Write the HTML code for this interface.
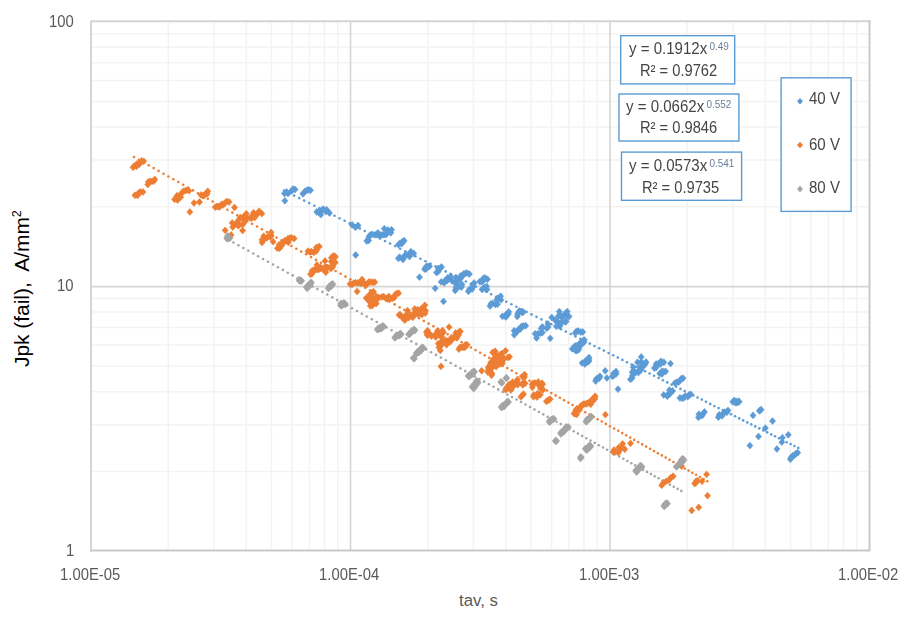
<!DOCTYPE html>
<html><head><meta charset="utf-8"><title>chart</title>
<style>
html,body{margin:0;padding:0;background:#fff;}
body{width:915px;height:620px;position:relative;overflow:hidden;font-family:"Liberation Sans",sans-serif;}
.t{position:absolute;white-space:nowrap;line-height:1;color:#595959;font-size:16.6px;transform-origin:0 0;transform:scaleX(0.895);}
.eq{position:absolute;white-space:nowrap;line-height:1;color:#454545;font-size:16px;transform-origin:0 0;transform:scaleX(0.94);}
.eq sup{font-size:10.6px;color:#6b7f99;vertical-align:baseline;position:relative;top:-4.3px;margin-left:2.4px;}
</style></head><body>
<svg width="915" height="620" viewBox="0 0 915 620" style="position:absolute;left:0;top:0">
<rect width="915" height="620" fill="#fff"/>
<g stroke="#f3f3f3" stroke-width="1.5" fill="none">
<line x1="168.22" y1="21.2" x2="168.22" y2="550.6"/>
<line x1="213.91" y1="21.2" x2="213.91" y2="550.6"/>
<line x1="246.33" y1="21.2" x2="246.33" y2="550.6"/>
<line x1="271.48" y1="21.2" x2="271.48" y2="550.6"/>
<line x1="292.03" y1="21.2" x2="292.03" y2="550.6"/>
<line x1="309.40" y1="21.2" x2="309.40" y2="550.6"/>
<line x1="324.45" y1="21.2" x2="324.45" y2="550.6"/>
<line x1="337.73" y1="21.2" x2="337.73" y2="550.6"/>
<line x1="427.72" y1="21.2" x2="427.72" y2="550.6"/>
<line x1="473.41" y1="21.2" x2="473.41" y2="550.6"/>
<line x1="505.83" y1="21.2" x2="505.83" y2="550.6"/>
<line x1="530.98" y1="21.2" x2="530.98" y2="550.6"/>
<line x1="551.53" y1="21.2" x2="551.53" y2="550.6"/>
<line x1="568.90" y1="21.2" x2="568.90" y2="550.6"/>
<line x1="583.95" y1="21.2" x2="583.95" y2="550.6"/>
<line x1="597.23" y1="21.2" x2="597.23" y2="550.6"/>
<line x1="687.22" y1="21.2" x2="687.22" y2="550.6"/>
<line x1="732.91" y1="21.2" x2="732.91" y2="550.6"/>
<line x1="765.33" y1="21.2" x2="765.33" y2="550.6"/>
<line x1="790.48" y1="21.2" x2="790.48" y2="550.6"/>
<line x1="811.03" y1="21.2" x2="811.03" y2="550.6"/>
<line x1="828.40" y1="21.2" x2="828.40" y2="550.6"/>
<line x1="843.45" y1="21.2" x2="843.45" y2="550.6"/>
<line x1="856.73" y1="21.2" x2="856.73" y2="550.6"/>
<line x1="91.0" y1="471.42" x2="869.5" y2="471.42"/>
<line x1="91.0" y1="424.81" x2="869.5" y2="424.81"/>
<line x1="91.0" y1="391.73" x2="869.5" y2="391.73"/>
<line x1="91.0" y1="366.08" x2="869.5" y2="366.08"/>
<line x1="91.0" y1="345.12" x2="869.5" y2="345.12"/>
<line x1="91.0" y1="327.40" x2="869.5" y2="327.40"/>
<line x1="91.0" y1="312.05" x2="869.5" y2="312.05"/>
<line x1="91.0" y1="298.51" x2="869.5" y2="298.51"/>
<line x1="91.0" y1="206.72" x2="869.5" y2="206.72"/>
<line x1="91.0" y1="160.11" x2="869.5" y2="160.11"/>
<line x1="91.0" y1="127.03" x2="869.5" y2="127.03"/>
<line x1="91.0" y1="101.38" x2="869.5" y2="101.38"/>
<line x1="91.0" y1="80.42" x2="869.5" y2="80.42"/>
<line x1="91.0" y1="62.70" x2="869.5" y2="62.70"/>
<line x1="91.0" y1="47.35" x2="869.5" y2="47.35"/>
<line x1="91.0" y1="33.81" x2="869.5" y2="33.81"/>
</g>
<g stroke="#d5d5d5" stroke-width="1.6" fill="none">
<line x1="350.50" y1="21.2" x2="350.50" y2="550.6"/>
<line x1="610.00" y1="21.2" x2="610.00" y2="550.6"/>
<line x1="91.0" y1="286.60" x2="869.5" y2="286.60"/>
</g>
<path d="M91.0 550.6V21.2H869.5" fill="none" stroke="#d4d4d4" stroke-width="1.9" stroke-linecap="square"/>
<path d="M91.0 550.6H869.5V21.2" fill="none" stroke="#c9c9c9" stroke-width="2" stroke-linecap="square"/>
<defs><filter id="bl" x="-5%" y="-5%" width="110%" height="110%"><feGaussianBlur stdDeviation="0.45"/></filter></defs><g filter="url(#bl)">
<g fill="#ed7d31"><circle cx="134.0" cy="157.0" r="1.3"/><circle cx="138.9" cy="159.8" r="1.3"/><circle cx="143.8" cy="162.6" r="1.3"/><circle cx="148.8" cy="165.3" r="1.3"/><circle cx="153.7" cy="168.1" r="1.3"/><circle cx="158.6" cy="170.9" r="1.3"/><circle cx="163.5" cy="173.7" r="1.3"/><circle cx="168.4" cy="176.5" r="1.3"/><circle cx="173.3" cy="179.2" r="1.3"/><circle cx="178.3" cy="182.0" r="1.3"/><circle cx="183.2" cy="184.8" r="1.3"/><circle cx="188.1" cy="187.6" r="1.3"/><circle cx="193.0" cy="190.4" r="1.3"/><circle cx="197.9" cy="193.2" r="1.3"/><circle cx="202.9" cy="195.9" r="1.3"/><circle cx="207.8" cy="198.7" r="1.3"/><circle cx="212.7" cy="201.5" r="1.3"/><circle cx="217.6" cy="204.3" r="1.3"/><circle cx="222.5" cy="207.1" r="1.3"/><circle cx="227.4" cy="209.8" r="1.3"/><circle cx="232.4" cy="212.6" r="1.3"/><circle cx="237.3" cy="215.4" r="1.3"/><circle cx="242.2" cy="218.2" r="1.3"/><circle cx="247.1" cy="221.0" r="1.3"/><circle cx="252.0" cy="223.7" r="1.3"/><circle cx="257.0" cy="226.5" r="1.3"/><circle cx="261.9" cy="229.3" r="1.3"/><circle cx="266.8" cy="232.1" r="1.3"/><circle cx="271.7" cy="234.9" r="1.3"/><circle cx="276.6" cy="237.6" r="1.3"/><circle cx="281.5" cy="240.4" r="1.3"/><circle cx="286.5" cy="243.2" r="1.3"/><circle cx="291.4" cy="246.0" r="1.3"/><circle cx="296.3" cy="248.8" r="1.3"/><circle cx="301.2" cy="251.6" r="1.3"/><circle cx="306.1" cy="254.3" r="1.3"/><circle cx="311.1" cy="257.1" r="1.3"/><circle cx="316.0" cy="259.9" r="1.3"/><circle cx="320.9" cy="262.7" r="1.3"/><circle cx="325.8" cy="265.5" r="1.3"/><circle cx="330.7" cy="268.2" r="1.3"/><circle cx="335.6" cy="271.0" r="1.3"/><circle cx="340.6" cy="273.8" r="1.3"/><circle cx="345.5" cy="276.6" r="1.3"/><circle cx="350.4" cy="279.4" r="1.3"/><circle cx="355.3" cy="282.1" r="1.3"/><circle cx="360.2" cy="284.9" r="1.3"/><circle cx="365.2" cy="287.7" r="1.3"/><circle cx="370.1" cy="290.5" r="1.3"/><circle cx="375.0" cy="293.3" r="1.3"/><circle cx="379.9" cy="296.0" r="1.3"/><circle cx="384.8" cy="298.8" r="1.3"/><circle cx="389.7" cy="301.6" r="1.3"/><circle cx="394.7" cy="304.4" r="1.3"/><circle cx="399.6" cy="307.2" r="1.3"/><circle cx="404.5" cy="309.9" r="1.3"/><circle cx="409.3" cy="312.7" r="1.3"/><circle cx="414.2" cy="315.4" r="1.3"/><circle cx="419.0" cy="318.2" r="1.3"/><circle cx="423.8" cy="320.9" r="1.3"/><circle cx="428.6" cy="323.6" r="1.3"/><circle cx="433.4" cy="326.3" r="1.3"/><circle cx="438.2" cy="329.0" r="1.3"/><circle cx="442.9" cy="331.7" r="1.3"/><circle cx="447.6" cy="334.3" r="1.3"/><circle cx="452.3" cy="337.0" r="1.3"/><circle cx="457.0" cy="339.6" r="1.3"/><circle cx="461.7" cy="342.3" r="1.3"/><circle cx="466.3" cy="344.9" r="1.3"/><circle cx="470.9" cy="347.5" r="1.3"/><circle cx="475.6" cy="350.1" r="1.3"/><circle cx="480.2" cy="352.7" r="1.3"/><circle cx="484.7" cy="355.3" r="1.3"/><circle cx="489.3" cy="357.9" r="1.3"/><circle cx="493.8" cy="360.5" r="1.3"/><circle cx="498.4" cy="363.0" r="1.3"/><circle cx="502.9" cy="365.6" r="1.3"/><circle cx="507.3" cy="368.1" r="1.3"/><circle cx="511.8" cy="370.6" r="1.3"/><circle cx="516.3" cy="373.2" r="1.3"/><circle cx="520.7" cy="375.7" r="1.3"/><circle cx="525.1" cy="378.2" r="1.3"/><circle cx="529.5" cy="380.7" r="1.3"/><circle cx="533.9" cy="383.1" r="1.3"/><circle cx="538.3" cy="385.6" r="1.3"/><circle cx="542.6" cy="388.1" r="1.3"/><circle cx="547.0" cy="390.5" r="1.3"/><circle cx="551.3" cy="393.0" r="1.3"/><circle cx="555.6" cy="395.4" r="1.3"/><circle cx="559.9" cy="397.8" r="1.3"/><circle cx="564.1" cy="400.2" r="1.3"/><circle cx="568.4" cy="402.6" r="1.3"/><circle cx="572.6" cy="405.0" r="1.3"/><circle cx="576.9" cy="407.4" r="1.3"/><circle cx="581.1" cy="409.8" r="1.3"/><circle cx="585.2" cy="412.2" r="1.3"/><circle cx="589.4" cy="414.5" r="1.3"/><circle cx="593.6" cy="416.9" r="1.3"/><circle cx="597.7" cy="419.2" r="1.3"/><circle cx="601.8" cy="421.5" r="1.3"/><circle cx="605.9" cy="423.9" r="1.3"/><circle cx="610.0" cy="426.2" r="1.3"/><circle cx="614.1" cy="428.5" r="1.3"/><circle cx="618.2" cy="430.8" r="1.3"/><circle cx="622.2" cy="433.1" r="1.3"/><circle cx="626.2" cy="435.3" r="1.3"/><circle cx="630.2" cy="437.6" r="1.3"/><circle cx="634.2" cy="439.9" r="1.3"/><circle cx="638.2" cy="442.1" r="1.3"/><circle cx="642.2" cy="444.4" r="1.3"/><circle cx="646.1" cy="446.6" r="1.3"/><circle cx="650.1" cy="448.8" r="1.3"/><circle cx="654.0" cy="451.0" r="1.3"/><circle cx="657.9" cy="453.2" r="1.3"/><circle cx="661.8" cy="455.4" r="1.3"/><circle cx="665.7" cy="457.6" r="1.3"/><circle cx="669.5" cy="459.8" r="1.3"/><circle cx="673.4" cy="462.0" r="1.3"/><circle cx="677.2" cy="464.1" r="1.3"/><circle cx="681.0" cy="466.3" r="1.3"/><circle cx="684.8" cy="468.5" r="1.3"/><circle cx="688.6" cy="470.6" r="1.3"/><circle cx="692.4" cy="472.7" r="1.3"/><circle cx="696.1" cy="474.8" r="1.3"/><circle cx="699.9" cy="477.0" r="1.3"/><circle cx="703.6" cy="479.1" r="1.3"/><circle cx="707.3" cy="481.2" r="1.3"/></g>
<g fill="#a5a5a5"><circle cx="228.5" cy="239.8" r="1.3"/><circle cx="233.4" cy="242.5" r="1.3"/><circle cx="238.4" cy="245.3" r="1.3"/><circle cx="243.3" cy="248.0" r="1.3"/><circle cx="248.3" cy="250.8" r="1.3"/><circle cx="253.2" cy="253.5" r="1.3"/><circle cx="258.1" cy="256.2" r="1.3"/><circle cx="263.1" cy="259.0" r="1.3"/><circle cx="268.0" cy="261.7" r="1.3"/><circle cx="273.0" cy="264.5" r="1.3"/><circle cx="277.9" cy="267.2" r="1.3"/><circle cx="282.9" cy="269.9" r="1.3"/><circle cx="287.8" cy="272.7" r="1.3"/><circle cx="292.7" cy="275.4" r="1.3"/><circle cx="297.7" cy="278.2" r="1.3"/><circle cx="302.6" cy="280.9" r="1.3"/><circle cx="307.6" cy="283.6" r="1.3"/><circle cx="312.5" cy="286.4" r="1.3"/><circle cx="317.4" cy="289.1" r="1.3"/><circle cx="322.4" cy="291.9" r="1.3"/><circle cx="327.3" cy="294.6" r="1.3"/><circle cx="332.3" cy="297.3" r="1.3"/><circle cx="337.2" cy="300.1" r="1.3"/><circle cx="342.1" cy="302.8" r="1.3"/><circle cx="347.1" cy="305.6" r="1.3"/><circle cx="352.0" cy="308.3" r="1.3"/><circle cx="357.0" cy="311.0" r="1.3"/><circle cx="361.9" cy="313.8" r="1.3"/><circle cx="366.8" cy="316.5" r="1.3"/><circle cx="371.8" cy="319.3" r="1.3"/><circle cx="376.7" cy="322.0" r="1.3"/><circle cx="381.7" cy="324.8" r="1.3"/><circle cx="386.6" cy="327.5" r="1.3"/><circle cx="391.6" cy="330.2" r="1.3"/><circle cx="396.5" cy="333.0" r="1.3"/><circle cx="401.4" cy="335.7" r="1.3"/><circle cx="406.4" cy="338.5" r="1.3"/><circle cx="411.3" cy="341.2" r="1.3"/><circle cx="416.3" cy="343.9" r="1.3"/><circle cx="421.2" cy="346.7" r="1.3"/><circle cx="426.1" cy="349.4" r="1.3"/><circle cx="431.1" cy="352.2" r="1.3"/><circle cx="436.0" cy="354.9" r="1.3"/><circle cx="440.9" cy="357.6" r="1.3"/><circle cx="445.8" cy="360.3" r="1.3"/><circle cx="450.7" cy="363.0" r="1.3"/><circle cx="455.6" cy="365.7" r="1.3"/><circle cx="460.4" cy="368.4" r="1.3"/><circle cx="465.2" cy="371.1" r="1.3"/><circle cx="470.0" cy="373.7" r="1.3"/><circle cx="474.7" cy="376.4" r="1.3"/><circle cx="479.5" cy="379.0" r="1.3"/><circle cx="484.2" cy="381.6" r="1.3"/><circle cx="488.9" cy="384.2" r="1.3"/><circle cx="493.5" cy="386.8" r="1.3"/><circle cx="498.2" cy="389.4" r="1.3"/><circle cx="502.8" cy="391.9" r="1.3"/><circle cx="507.4" cy="394.5" r="1.3"/><circle cx="512.0" cy="397.0" r="1.3"/><circle cx="516.5" cy="399.5" r="1.3"/><circle cx="521.0" cy="402.0" r="1.3"/><circle cx="525.5" cy="404.5" r="1.3"/><circle cx="530.0" cy="407.0" r="1.3"/><circle cx="534.5" cy="409.5" r="1.3"/><circle cx="538.9" cy="412.0" r="1.3"/><circle cx="543.3" cy="414.4" r="1.3"/><circle cx="547.7" cy="416.9" r="1.3"/><circle cx="552.1" cy="419.3" r="1.3"/><circle cx="556.5" cy="421.7" r="1.3"/><circle cx="560.8" cy="424.1" r="1.3"/><circle cx="565.1" cy="426.5" r="1.3"/><circle cx="569.4" cy="428.9" r="1.3"/><circle cx="573.7" cy="431.2" r="1.3"/><circle cx="577.9" cy="433.6" r="1.3"/><circle cx="582.1" cy="435.9" r="1.3"/><circle cx="586.3" cy="438.3" r="1.3"/><circle cx="590.5" cy="440.6" r="1.3"/><circle cx="594.7" cy="442.9" r="1.3"/><circle cx="598.8" cy="445.2" r="1.3"/><circle cx="603.0" cy="447.5" r="1.3"/><circle cx="607.1" cy="449.8" r="1.3"/><circle cx="611.1" cy="452.0" r="1.3"/><circle cx="615.2" cy="454.3" r="1.3"/><circle cx="619.2" cy="456.5" r="1.3"/><circle cx="623.3" cy="458.7" r="1.3"/><circle cx="627.3" cy="461.0" r="1.3"/><circle cx="631.3" cy="463.2" r="1.3"/><circle cx="635.2" cy="465.4" r="1.3"/><circle cx="639.2" cy="467.6" r="1.3"/><circle cx="643.1" cy="469.7" r="1.3"/><circle cx="647.0" cy="471.9" r="1.3"/><circle cx="650.9" cy="474.1" r="1.3"/><circle cx="654.7" cy="476.2" r="1.3"/><circle cx="658.6" cy="478.3" r="1.3"/><circle cx="662.4" cy="480.5" r="1.3"/><circle cx="666.2" cy="482.6" r="1.3"/><circle cx="670.0" cy="484.7" r="1.3"/><circle cx="673.8" cy="486.8" r="1.3"/><circle cx="677.6" cy="488.9" r="1.3"/><circle cx="681.3" cy="490.9" r="1.3"/></g>
<g fill="#5b9bd5"><circle cx="284.0" cy="190.5" r="1.3"/><circle cx="289.1" cy="193.0" r="1.3"/><circle cx="294.1" cy="195.6" r="1.3"/><circle cx="299.2" cy="198.1" r="1.3"/><circle cx="304.2" cy="200.6" r="1.3"/><circle cx="309.3" cy="203.1" r="1.3"/><circle cx="314.3" cy="205.7" r="1.3"/><circle cx="319.4" cy="208.2" r="1.3"/><circle cx="324.4" cy="210.7" r="1.3"/><circle cx="329.5" cy="213.3" r="1.3"/><circle cx="334.5" cy="215.8" r="1.3"/><circle cx="339.6" cy="218.3" r="1.3"/><circle cx="344.6" cy="220.8" r="1.3"/><circle cx="349.7" cy="223.4" r="1.3"/><circle cx="354.7" cy="225.9" r="1.3"/><circle cx="359.8" cy="228.4" r="1.3"/><circle cx="364.8" cy="231.0" r="1.3"/><circle cx="369.9" cy="233.5" r="1.3"/><circle cx="374.9" cy="236.0" r="1.3"/><circle cx="380.0" cy="238.6" r="1.3"/><circle cx="385.0" cy="241.1" r="1.3"/><circle cx="390.1" cy="243.6" r="1.3"/><circle cx="395.2" cy="246.1" r="1.3"/><circle cx="400.2" cy="248.7" r="1.3"/><circle cx="405.3" cy="251.2" r="1.3"/><circle cx="410.3" cy="253.7" r="1.3"/><circle cx="415.4" cy="256.3" r="1.3"/><circle cx="420.4" cy="258.8" r="1.3"/><circle cx="425.5" cy="261.3" r="1.3"/><circle cx="430.5" cy="263.8" r="1.3"/><circle cx="435.6" cy="266.4" r="1.3"/><circle cx="440.6" cy="268.9" r="1.3"/><circle cx="445.7" cy="271.4" r="1.3"/><circle cx="450.7" cy="274.0" r="1.3"/><circle cx="455.8" cy="276.5" r="1.3"/><circle cx="460.8" cy="279.0" r="1.3"/><circle cx="465.9" cy="281.5" r="1.3"/><circle cx="470.9" cy="284.1" r="1.3"/><circle cx="476.0" cy="286.6" r="1.3"/><circle cx="481.0" cy="289.1" r="1.3"/><circle cx="486.1" cy="291.7" r="1.3"/><circle cx="491.1" cy="294.2" r="1.3"/><circle cx="496.2" cy="296.7" r="1.3"/><circle cx="501.3" cy="299.3" r="1.3"/><circle cx="506.3" cy="301.8" r="1.3"/><circle cx="511.4" cy="304.3" r="1.3"/><circle cx="516.4" cy="306.8" r="1.3"/><circle cx="521.5" cy="309.4" r="1.3"/><circle cx="526.5" cy="311.9" r="1.3"/><circle cx="531.5" cy="314.4" r="1.3"/><circle cx="536.5" cy="316.9" r="1.3"/><circle cx="541.4" cy="319.4" r="1.3"/><circle cx="546.4" cy="321.8" r="1.3"/><circle cx="551.3" cy="324.3" r="1.3"/><circle cx="556.2" cy="326.7" r="1.3"/><circle cx="561.0" cy="329.2" r="1.3"/><circle cx="565.9" cy="331.6" r="1.3"/><circle cx="570.7" cy="334.0" r="1.3"/><circle cx="575.5" cy="336.4" r="1.3"/><circle cx="580.3" cy="338.8" r="1.3"/><circle cx="585.1" cy="341.2" r="1.3"/><circle cx="589.8" cy="343.6" r="1.3"/><circle cx="594.5" cy="346.0" r="1.3"/><circle cx="599.2" cy="348.3" r="1.3"/><circle cx="603.9" cy="350.6" r="1.3"/><circle cx="608.6" cy="353.0" r="1.3"/><circle cx="613.2" cy="355.3" r="1.3"/><circle cx="617.8" cy="357.6" r="1.3"/><circle cx="622.4" cy="359.9" r="1.3"/><circle cx="627.0" cy="362.2" r="1.3"/><circle cx="631.6" cy="364.5" r="1.3"/><circle cx="636.1" cy="366.8" r="1.3"/><circle cx="640.6" cy="369.0" r="1.3"/><circle cx="645.1" cy="371.3" r="1.3"/><circle cx="649.6" cy="373.5" r="1.3"/><circle cx="654.1" cy="375.7" r="1.3"/><circle cx="658.5" cy="378.0" r="1.3"/><circle cx="662.9" cy="380.2" r="1.3"/><circle cx="667.3" cy="382.4" r="1.3"/><circle cx="671.7" cy="384.6" r="1.3"/><circle cx="676.1" cy="386.8" r="1.3"/><circle cx="680.4" cy="388.9" r="1.3"/><circle cx="684.7" cy="391.1" r="1.3"/><circle cx="689.0" cy="393.2" r="1.3"/><circle cx="693.3" cy="395.4" r="1.3"/><circle cx="697.6" cy="397.5" r="1.3"/><circle cx="701.8" cy="399.6" r="1.3"/><circle cx="706.0" cy="401.8" r="1.3"/><circle cx="710.2" cy="403.9" r="1.3"/><circle cx="714.4" cy="406.0" r="1.3"/><circle cx="718.6" cy="408.1" r="1.3"/><circle cx="722.8" cy="410.1" r="1.3"/><circle cx="726.9" cy="412.2" r="1.3"/><circle cx="731.0" cy="414.3" r="1.3"/><circle cx="735.1" cy="416.3" r="1.3"/><circle cx="739.2" cy="418.4" r="1.3"/><circle cx="743.2" cy="420.4" r="1.3"/><circle cx="747.3" cy="422.4" r="1.3"/><circle cx="751.3" cy="424.4" r="1.3"/><circle cx="755.3" cy="426.4" r="1.3"/><circle cx="759.3" cy="428.4" r="1.3"/><circle cx="763.3" cy="430.4" r="1.3"/><circle cx="767.2" cy="432.4" r="1.3"/><circle cx="771.2" cy="434.4" r="1.3"/><circle cx="775.1" cy="436.3" r="1.3"/><circle cx="779.0" cy="438.3" r="1.3"/><circle cx="782.9" cy="440.2" r="1.3"/><circle cx="786.7" cy="442.2" r="1.3"/><circle cx="790.6" cy="444.1" r="1.3"/><circle cx="794.4" cy="446.0" r="1.3"/><circle cx="798.2" cy="447.9" r="1.3"/></g>
<path d="M284.5 190.1L287.6 193.5L284.5 196.9L281.4 193.5ZM288.0 190.1L291.1 193.5L288.0 196.9L284.9 193.5ZM291.5 187.6L294.6 191.0L291.5 194.4L288.4 191.0ZM295.0 186.1L298.1 189.5L295.0 192.9L291.9 189.5ZM286.5 188.4L289.6 191.8L286.5 195.2L283.4 191.8ZM293.0 185.6L296.1 189.0L293.0 192.4L289.9 189.0ZM284.9 197.4L287.9 200.8L284.9 204.2L281.8 200.8ZM302.9 190.4L305.9 193.8L302.9 197.3L299.8 193.8ZM304.1 189.2L307.2 192.6L304.1 196.1L301.1 192.6ZM305.3 187.7L308.3 191.1L305.3 194.6L302.2 191.1ZM306.8 186.9L309.8 190.4L306.8 193.8L303.7 190.4ZM308.3 186.3L311.4 189.8L308.3 193.2L305.3 189.8ZM310.4 186.8L313.5 190.3L310.4 193.7L307.4 190.3ZM316.7 208.4L319.8 211.9L316.7 215.3L313.7 211.9ZM318.3 208.6L321.4 212.1L318.3 215.5L315.3 212.1ZM320.8 211.2L323.8 214.7L320.8 218.1L317.7 214.7ZM321.1 207.9L324.2 211.3L321.1 214.8L318.1 211.3ZM322.1 206.4L325.2 209.8L322.1 213.3L319.1 209.8ZM323.4 205.7L326.5 209.2L323.4 212.6L320.4 209.2ZM325.8 208.1L328.9 211.5L325.8 215.0L322.8 211.5ZM326.7 206.3L329.8 209.8L326.7 213.2L323.7 209.8ZM329.4 209.5L332.5 212.9L329.4 216.4L326.4 212.9ZM352.1 221.4L355.2 224.8L352.1 228.2L349.1 224.8ZM355.4 224.0L358.4 227.4L355.4 230.8L352.3 227.4ZM358.0 222.0L361.1 225.4L358.0 228.8L354.9 225.4ZM366.7 237.5L369.8 240.9L366.7 244.4L363.7 240.9ZM368.7 237.0L371.7 240.4L368.7 243.9L365.6 240.4ZM368.9 233.3L372.0 236.7L368.9 240.2L365.9 236.7ZM370.3 231.7L373.3 235.1L370.3 238.6L367.2 235.1ZM372.0 230.8L375.1 234.3L372.0 237.7L369.0 234.3ZM374.6 231.4L377.6 234.9L374.6 238.3L371.5 234.9ZM376.8 231.3L379.8 234.8L376.8 238.2L373.7 234.8ZM377.9 229.4L381.0 232.8L377.9 236.3L374.9 232.8ZM376.7 231.1L379.7 234.6L376.7 238.0L373.6 234.6ZM378.6 231.4L381.6 234.8L378.6 238.3L375.5 234.8ZM380.6 231.8L383.6 235.2L380.6 238.7L377.5 235.2ZM382.3 231.4L385.4 234.9L382.3 238.3L379.3 234.9ZM384.1 231.2L387.1 234.7L384.1 238.1L381.0 234.7ZM385.9 231.1L388.9 234.6L385.9 238.0L382.8 234.6ZM387.2 229.7L390.3 233.2L387.2 236.6L384.2 233.2ZM388.0 226.6L391.1 230.1L388.0 233.5L385.0 230.1ZM390.8 229.4L393.9 232.8L390.8 236.3L387.8 232.8ZM391.6 226.3L394.6 229.8L391.6 233.2L388.5 229.8ZM384.3 225.2L387.4 228.7L384.3 232.1L381.2 228.7ZM355.7 251.6L358.8 255.0L355.7 258.4L352.6 255.0ZM398.6 241.3L401.6 244.7L398.6 248.2L395.5 244.7ZM399.8 239.9L402.8 243.4L399.8 246.8L396.7 243.4ZM401.8 240.2L404.9 243.7L401.8 247.1L398.8 243.7ZM402.6 237.9L405.6 241.4L402.6 244.8L399.5 241.4ZM404.2 237.3L407.2 240.8L404.2 244.2L401.1 240.8ZM398.4 254.9L401.4 258.4L398.4 261.8L395.3 258.4ZM399.7 253.7L402.8 257.2L399.7 260.6L396.7 257.2ZM403.0 256.0L406.0 259.5L403.0 262.9L399.9 259.5ZM403.8 253.9L406.9 257.3L403.8 260.8L400.8 257.3ZM404.8 252.0L407.9 255.4L404.8 258.9L401.8 255.4ZM406.5 251.4L409.6 254.9L406.5 258.3L403.5 254.9ZM409.5 253.2L412.5 256.6L409.5 260.1L406.4 256.6ZM409.9 250.3L413.0 253.7L409.9 257.2L406.9 253.7ZM410.9 248.2L413.9 251.7L410.9 255.1L407.8 251.7ZM413.8 249.9L416.8 253.4L413.8 256.8L410.7 253.4ZM424.5 265.6L427.6 269.1L424.5 272.5L421.5 269.1ZM426.1 265.5L429.2 268.9L426.1 272.4L423.1 268.9ZM426.3 263.1L429.3 266.5L426.3 270.0L423.2 266.5ZM427.9 263.0L431.0 266.4L427.9 269.9L424.9 266.4ZM429.5 262.8L432.6 266.3L429.5 269.7L426.5 266.3ZM419.5 273.8L422.6 277.2L419.5 280.6L416.4 277.2ZM436.5 269.0L439.5 272.4L436.5 275.9L433.4 272.4ZM438.1 268.3L441.2 271.8L438.1 275.2L435.1 271.8ZM438.3 265.0L441.3 268.4L438.3 271.9L435.2 268.4ZM440.2 264.9L443.3 268.3L440.2 271.8L437.2 268.3ZM441.5 263.5L444.5 267.0L441.5 270.4L438.4 267.0ZM435.2 284.9L438.2 288.3L435.2 291.8L432.1 288.3ZM443.5 297.9L446.6 301.4L443.5 304.8L440.4 301.4ZM441.2 278.4L444.2 281.9L441.2 285.3L438.1 281.9ZM444.2 279.4L447.2 282.9L444.2 286.3L441.1 282.9ZM444.9 277.3L448.0 280.8L444.9 284.2L441.9 280.8ZM447.1 277.2L450.1 280.6L447.1 284.1L444.0 280.6ZM447.5 274.6L450.5 278.1L447.5 281.5L444.4 278.1ZM449.9 274.9L453.0 278.3L449.9 281.8L446.9 278.3ZM450.6 272.7L453.7 276.2L450.6 279.6L447.6 276.2ZM451.8 277.3L454.9 280.7L451.8 284.2L448.8 280.7ZM454.7 279.2L457.8 282.7L454.7 286.1L451.7 282.7ZM456.7 279.4L459.7 282.8L456.7 286.3L453.6 282.8ZM455.9 274.1L459.0 277.6L455.9 281.0L452.9 277.6ZM458.7 276.0L461.8 279.4L458.7 282.9L455.7 279.4ZM460.3 275.3L463.4 278.8L460.3 282.2L457.3 278.8ZM460.7 272.4L463.8 275.9L460.7 279.3L457.7 275.9ZM462.7 272.4L465.7 275.9L462.7 279.3L459.6 275.9ZM463.5 270.5L466.6 273.9L463.5 277.4L460.5 273.9ZM465.2 270.0L468.3 273.5L465.2 276.9L462.2 273.5ZM466.9 269.5L469.9 273.0L466.9 276.4L463.8 273.0ZM469.3 270.6L472.4 274.0L469.3 277.5L466.3 274.0ZM455.2 287.0L458.3 290.5L455.2 293.9L452.2 290.5ZM455.8 284.5L458.9 287.9L455.8 291.4L452.8 287.9ZM456.9 282.9L460.0 286.3L456.9 289.8L453.9 286.3ZM459.1 283.2L462.2 286.7L459.1 290.1L456.1 286.7ZM461.4 283.7L464.5 287.1L461.4 290.6L458.4 287.1ZM461.9 280.9L465.0 284.4L461.9 287.8L458.9 284.4ZM468.4 287.9L471.4 291.4L468.4 294.8L465.3 291.4ZM469.4 286.1L472.4 289.6L469.4 293.0L466.3 289.6ZM472.1 285.7L475.2 289.1L472.1 292.6L469.1 289.1ZM472.8 283.6L475.8 287.0L472.8 290.5L469.7 287.0ZM472.8 281.0L475.8 284.5L472.8 287.9L469.7 284.5ZM474.1 279.5L477.2 282.9L474.1 286.4L471.1 282.9ZM479.8 278.2L482.8 281.6L479.8 285.1L476.7 281.6ZM481.5 278.1L484.5 281.5L481.5 285.0L478.4 281.5ZM483.1 277.7L486.1 281.1L483.1 284.6L480.0 281.1ZM483.4 274.9L486.5 278.3L483.4 281.8L480.4 278.3ZM485.0 274.4L488.0 277.9L485.0 281.3L481.9 277.9ZM487.4 275.8L490.5 279.2L487.4 282.7L484.4 279.2ZM482.2 286.1L485.2 289.5L482.2 293.0L479.1 289.5ZM483.1 284.9L486.1 288.4L483.1 291.8L480.0 288.4ZM484.3 284.3L487.4 287.8L484.3 291.2L481.3 287.8ZM486.9 286.0L490.0 289.5L486.9 292.9L483.9 289.5ZM486.7 283.0L489.7 286.4L486.7 289.9L483.6 286.4ZM490.0 302.6L493.1 306.1L490.0 309.5L487.0 306.1ZM490.8 300.6L493.9 304.1L490.8 307.5L487.8 304.1ZM492.5 299.9L495.6 303.3L492.5 306.8L489.5 303.3ZM495.5 301.1L498.5 304.5L495.5 308.0L492.4 304.5ZM497.4 300.7L500.5 304.2L497.4 307.6L494.4 304.2ZM496.8 296.6L499.8 300.1L496.8 303.5L493.7 300.1ZM497.7 294.8L500.8 298.3L497.7 301.7L494.7 298.3ZM501.0 296.4L504.0 299.9L501.0 303.3L497.9 299.9ZM500.7 292.8L503.7 296.3L500.7 299.7L497.6 296.3ZM502.4 312.9L505.5 316.3L502.4 319.8L499.4 316.3ZM505.8 313.6L508.9 317.0L505.8 320.5L502.8 317.0ZM506.1 311.1L509.1 314.6L506.1 318.0L503.0 314.6ZM508.3 310.7L511.4 314.1L508.3 317.6L505.3 314.1ZM508.7 308.4L511.8 311.8L508.7 315.3L505.7 311.8ZM517.2 313.0L520.3 316.4L517.2 319.9L514.2 316.4ZM517.7 310.7L520.7 314.1L517.7 317.6L514.6 314.1ZM518.4 308.9L521.5 312.3L518.4 315.8L515.4 312.3ZM519.4 307.6L522.5 311.0L519.4 314.5L516.4 311.0ZM521.8 309.0L524.9 312.4L521.8 315.9L518.8 312.4ZM523.3 308.6L526.4 312.1L523.3 315.5L520.3 312.1ZM514.3 331.4L517.4 334.8L514.3 338.3L511.3 334.8ZM514.2 327.3L517.2 330.7L514.2 334.2L511.1 330.7ZM517.2 328.1L520.2 331.6L517.2 335.0L514.1 331.6ZM518.3 326.1L521.4 329.6L518.3 333.0L515.3 329.6ZM520.4 325.5L523.4 329.0L520.4 332.4L517.3 329.0ZM521.3 323.1L524.4 326.6L521.3 330.0L518.3 326.6ZM523.4 322.5L526.4 326.0L523.4 329.4L520.3 326.0ZM525.7 322.3L528.7 325.7L525.7 329.2L522.6 325.7ZM536.5 334.5L539.6 338.0L536.5 341.4L533.5 338.0ZM535.2 330.3L538.2 333.7L535.2 337.2L532.1 333.7ZM537.9 330.2L541.0 333.7L537.9 337.1L534.9 333.7ZM540.4 329.9L543.4 333.4L540.4 336.8L537.3 333.4ZM542.4 329.1L545.4 332.6L542.4 336.0L539.3 332.6ZM541.2 325.1L544.2 328.5L541.2 332.0L538.1 328.5ZM542.4 323.4L545.4 326.9L542.4 330.3L539.3 326.9ZM546.6 324.9L549.6 328.3L546.6 331.8L543.5 328.3ZM548.1 323.6L551.2 327.1L548.1 330.5L545.1 327.1ZM547.9 320.5L550.9 324.0L547.9 327.4L544.8 324.0ZM550.2 334.9L553.2 338.3L550.2 341.8L547.2 338.3ZM551.7 314.0L554.8 317.5L551.7 320.9L548.7 317.5ZM556.3 322.9L559.4 326.3L556.3 329.8L553.3 326.3ZM555.1 316.8L558.2 320.2L555.1 323.7L552.1 320.2ZM558.3 321.9L561.3 325.3L558.3 328.8L555.2 325.3ZM558.1 318.5L561.2 321.9L558.1 325.4L555.1 321.9ZM560.0 320.2L563.1 323.7L560.0 327.1L557.0 323.7ZM558.3 312.8L561.4 316.2L558.3 319.7L555.3 316.2ZM561.9 319.0L565.0 322.5L561.9 325.9L558.9 322.5ZM560.6 312.7L563.7 316.1L560.6 319.6L557.6 316.1ZM562.4 314.2L565.5 317.6L562.4 321.1L559.4 317.6ZM565.2 318.5L568.3 321.9L565.2 325.4L562.2 321.9ZM566.2 317.9L569.2 321.4L566.2 324.8L563.1 321.4ZM564.6 310.7L567.6 314.1L564.6 317.6L561.5 314.1ZM565.7 310.6L568.8 314.1L565.7 317.5L562.7 314.1ZM567.5 312.2L570.6 315.6L567.5 319.1L564.5 315.6ZM569.0 313.0L572.1 316.5L569.0 319.9L566.0 316.5ZM559.3 308.2L562.3 311.6L559.3 315.1L556.2 311.6ZM567.2 308.2L570.2 311.6L567.2 315.1L564.2 311.6ZM560.0 322.6L563.0 326.0L560.0 329.4L557.0 326.0ZM575.3 329.7L578.3 333.1L575.3 336.6L572.2 333.1ZM576.4 327.9L579.5 331.3L576.4 334.8L573.4 331.3ZM578.3 327.6L581.3 331.0L578.3 334.5L575.2 331.0ZM580.8 328.7L583.8 332.1L580.8 335.6L577.7 332.1ZM582.8 328.5L585.8 332.0L582.8 335.4L579.7 332.0ZM572.3 345.4L575.4 348.9L572.3 352.3L569.3 348.9ZM575.5 347.0L578.5 350.4L575.5 353.9L572.4 350.4ZM577.1 347.1L580.1 350.6L577.1 354.0L574.0 350.6ZM574.3 343.2L577.4 346.7L574.3 350.1L571.3 346.7ZM578.8 346.1L581.8 349.5L578.8 353.0L575.7 349.5ZM576.0 342.2L579.1 345.6L576.0 349.1L573.0 345.6ZM579.0 343.6L582.0 347.0L579.0 350.5L575.9 347.0ZM579.4 342.6L582.5 346.1L579.4 349.5L576.4 346.1ZM580.4 342.3L583.5 345.7L580.4 349.2L577.4 345.7ZM579.6 340.1L582.6 343.6L579.6 347.0L576.5 343.6ZM580.8 339.9L583.8 343.4L580.8 346.8L577.7 343.4ZM582.2 339.9L585.3 343.3L582.2 346.8L579.2 343.3ZM582.1 338.5L585.2 341.9L582.1 345.4L579.1 341.9ZM583.9 338.8L587.0 342.2L583.9 345.7L580.9 342.2ZM583.6 337.1L586.6 340.6L583.6 344.0L580.5 340.6ZM584.2 336.4L587.3 339.8L584.2 343.3L581.2 339.8ZM582.2 359.5L585.2 363.0L582.2 366.4L579.1 363.0ZM584.9 360.6L587.9 364.0L584.9 367.5L581.8 364.0ZM585.4 359.3L588.4 362.7L585.4 366.2L582.3 362.7ZM585.5 357.6L588.6 361.1L585.5 364.5L582.5 361.1ZM588.0 358.4L591.0 361.9L588.0 365.3L584.9 361.9ZM588.9 357.6L592.0 361.1L588.9 364.5L585.9 361.1ZM588.9 355.8L591.9 359.2L588.9 362.7L585.8 359.2ZM589.0 354.1L592.0 357.5L589.0 361.0L585.9 357.5ZM595.7 377.6L598.7 381.1L595.7 384.5L592.6 381.1ZM596.2 375.7L599.3 379.2L596.2 382.6L593.2 379.2ZM597.5 374.8L600.6 378.3L597.5 381.7L594.5 378.3ZM599.4 374.7L602.4 378.1L599.4 381.6L596.3 378.1ZM599.9 372.8L603.0 376.3L599.9 379.7L596.9 376.3ZM605.2 367.4L608.2 370.8L605.2 374.2L602.2 370.8ZM606.9 374.6L609.9 378.0L606.9 381.4L603.9 378.0ZM612.5 372.9L615.5 376.4L612.5 379.8L609.4 376.4ZM613.7 372.1L616.8 375.5L613.7 379.0L610.7 375.5ZM613.7 370.0L616.8 373.4L613.7 376.9L610.7 373.4ZM616.1 370.4L619.2 373.8L616.1 377.3L613.1 373.8ZM616.0 368.1L619.0 371.5L616.0 375.0L612.9 371.5ZM618.0 385.8L621.0 389.2L618.0 392.6L615.0 389.2ZM630.4 375.9L633.5 379.3L630.4 382.8L627.4 379.3ZM632.1 374.6L635.1 378.0L632.1 381.5L629.0 378.0ZM632.5 372.1L635.6 375.5L632.5 379.0L629.5 375.5ZM632.3 368.9L635.3 372.3L632.3 375.8L629.2 372.3ZM635.5 369.1L638.5 372.6L635.5 376.0L632.4 372.6ZM633.4 367.1L636.5 370.6L633.4 374.0L630.4 370.6ZM638.4 369.2L641.5 372.7L638.4 376.1L635.4 372.7ZM633.2 363.7L636.3 367.2L633.2 370.6L630.2 367.2ZM639.3 366.6L642.3 370.1L639.3 373.5L636.2 370.1ZM641.1 366.4L644.1 369.8L641.1 373.3L638.0 369.8ZM639.9 363.9L643.0 367.3L639.9 370.8L636.9 367.3ZM641.3 363.3L644.4 366.7L641.3 370.2L638.3 366.7ZM637.5 358.8L640.6 362.3L637.5 365.7L634.5 362.3ZM644.1 362.1L647.1 365.6L644.1 369.0L641.0 365.6ZM641.3 358.4L644.3 361.8L641.3 365.3L638.2 361.8ZM645.5 359.9L648.5 363.4L645.5 366.8L642.4 363.4ZM646.0 358.6L649.0 362.1L646.0 365.5L642.9 362.1ZM641.2 353.5L644.3 356.9L641.2 360.4L638.2 356.9ZM654.4 364.6L657.4 368.1L654.4 371.5L651.3 368.1ZM656.2 364.0L659.2 367.4L656.2 370.9L653.1 367.4ZM656.2 360.6L659.2 364.1L656.2 367.5L653.1 364.1ZM658.2 360.4L661.3 363.8L658.2 367.3L655.2 363.8ZM660.5 360.5L663.6 363.9L660.5 367.4L657.5 363.9ZM661.0 357.8L664.1 361.3L661.0 364.7L658.0 361.3ZM663.9 358.8L666.9 362.3L663.9 365.7L660.8 362.3ZM670.5 360.2L673.5 363.6L670.5 367.1L667.5 363.6ZM659.7 370.1L662.8 373.5L659.7 377.0L656.7 373.5ZM662.0 370.5L665.0 374.0L662.0 377.4L658.9 374.0ZM661.8 367.9L664.8 371.4L661.8 374.8L658.7 371.4ZM663.7 367.9L666.7 371.3L663.7 374.8L660.6 371.3ZM665.7 368.0L668.7 371.4L665.7 374.9L662.6 371.4ZM674.9 379.6L678.0 383.1L674.9 386.5L671.9 383.1ZM676.7 378.8L679.7 382.3L676.7 385.7L673.6 382.3ZM678.7 378.5L681.7 382.0L678.7 385.4L675.6 382.0ZM680.0 377.1L683.1 380.5L680.0 384.0L677.0 380.5ZM681.2 375.3L684.3 378.8L681.2 382.2L678.2 378.8ZM683.1 374.8L686.1 378.2L683.1 381.7L680.0 378.2ZM663.7 391.5L666.8 395.0L663.7 398.4L660.7 395.0ZM667.3 392.8L670.4 396.3L667.3 399.7L664.3 396.3ZM668.0 390.8L671.1 394.2L668.0 397.7L665.0 394.2ZM670.1 390.2L673.1 393.7L670.1 397.1L667.0 393.7ZM669.5 386.6L672.5 390.1L669.5 393.5L666.4 390.1ZM672.6 387.4L675.7 390.9L672.6 394.3L669.6 390.9ZM679.9 394.5L683.0 397.9L679.9 401.4L676.9 397.9ZM682.2 394.8L685.2 398.3L682.2 401.7L679.1 398.3ZM684.0 394.3L687.1 397.7L684.0 401.2L681.0 397.7ZM685.3 392.6L688.3 396.1L685.3 399.5L682.2 396.1ZM687.7 393.3L690.8 396.7L687.7 400.2L684.7 396.7ZM688.9 391.5L692.0 395.0L688.9 398.4L685.9 395.0ZM690.6 390.8L693.7 394.2L690.6 397.7L687.6 394.2ZM698.5 413.9L701.6 417.4L698.5 420.8L695.5 417.4ZM698.9 410.8L701.9 414.2L698.9 417.7L695.8 414.2ZM702.1 412.2L705.1 415.6L702.1 419.1L699.0 415.6ZM703.2 410.1L706.2 413.6L703.2 417.0L700.1 413.6ZM704.4 408.4L707.5 411.9L704.4 415.3L701.4 411.9ZM718.4 413.8L721.4 417.2L718.4 420.7L715.3 417.2ZM719.2 411.3L722.3 414.8L719.2 418.2L716.2 414.8ZM722.1 412.4L725.1 415.8L722.1 419.3L719.0 415.8ZM723.1 410.3L726.2 413.7L723.1 417.2L720.1 413.7ZM724.5 408.7L727.5 412.1L724.5 415.6L721.4 412.1ZM726.8 408.9L729.9 412.3L726.8 415.8L723.8 412.3ZM728.0 407.0L731.0 410.4L728.0 413.9L724.9 410.4ZM737.1 399.2L740.2 402.7L737.1 406.1L734.1 402.7ZM739.1 398.3L742.2 401.8L739.1 405.2L736.1 401.8ZM735.4 399.3L738.5 402.7L735.4 406.2L732.4 402.7ZM738.7 397.7L741.7 401.2L738.7 404.6L735.6 401.2ZM734.3 397.0L737.3 400.4L734.3 403.9L731.2 400.4ZM736.3 397.9L739.3 401.3L736.3 404.8L733.2 401.3ZM737.4 399.0L740.5 402.4L737.4 405.9L734.4 402.4ZM732.8 398.4L735.8 401.8L732.8 405.3L729.7 401.8ZM753.0 411.9L756.0 415.4L753.0 418.8L750.0 415.4ZM759.4 407.4L762.4 410.8L759.4 414.3L756.3 410.8ZM760.2 406.8L763.3 410.2L760.2 413.7L757.2 410.2ZM761.1 406.2L764.2 409.7L761.1 413.1L758.1 409.7ZM772.5 417.6L775.5 421.0L772.5 424.4L769.5 421.0ZM765.4 424.7L768.4 428.1L765.4 431.6L762.4 428.1ZM758.5 433.1L761.5 436.5L758.5 439.9L755.5 436.5ZM749.9 442.2L752.9 445.6L749.9 449.1L746.9 445.6ZM788.3 431.4L791.3 434.8L788.3 438.2L785.2 434.8ZM782.4 434.2L785.4 437.7L782.4 441.1L779.4 437.7ZM781.8 438.8L784.8 442.2L781.8 445.6L778.8 442.2ZM776.9 445.6L779.9 449.0L776.9 452.4L773.9 449.0ZM790.4 455.8L793.4 459.3L790.4 462.7L787.3 459.3ZM791.2 453.8L794.3 457.3L791.2 460.7L788.2 457.3ZM792.7 452.5L795.8 456.0L792.7 459.4L789.7 456.0ZM794.6 451.7L797.7 455.2L794.6 458.6L791.6 455.2ZM795.9 450.2L798.9 453.6L795.9 457.1L792.8 453.6ZM797.7 449.3L800.7 452.7L797.7 456.2L794.6 452.7Z" fill="#5b9bd5" stroke="#5b9bd5" stroke-width="0.6" stroke-linejoin="round"/>
<path d="M133.0 163.9L136.1 167.3L133.0 170.8L130.0 167.3ZM134.2 162.5L137.3 165.9L134.2 169.4L131.2 165.9ZM136.6 162.9L139.6 166.3L136.6 169.8L133.5 166.3ZM137.0 160.4L140.1 163.8L137.0 167.3L134.0 163.8ZM139.3 160.7L142.3 164.1L139.3 167.6L136.2 164.1ZM140.5 159.3L143.5 162.7L140.5 166.2L137.4 162.7ZM141.4 157.5L144.5 160.9L141.4 164.4L138.4 160.9ZM143.7 157.8L146.7 161.2L143.7 164.7L140.6 161.2ZM134.9 191.8L137.9 195.2L134.9 198.7L131.8 195.2ZM137.5 192.0L140.6 195.4L137.5 198.9L134.5 195.4ZM138.6 189.6L141.6 193.0L138.6 196.5L135.5 193.0ZM140.4 188.5L143.5 191.9L140.4 195.4L137.4 191.9ZM143.0 188.5L146.0 191.9L143.0 195.4L139.9 191.9ZM147.8 181.1L150.9 184.6L147.8 188.0L144.8 184.6ZM148.3 178.6L151.3 182.0L148.3 185.5L145.2 182.0ZM149.9 177.9L152.9 181.3L149.9 184.8L146.8 181.3ZM151.9 177.9L155.0 181.3L151.9 184.8L148.9 181.3ZM153.8 177.7L156.9 181.1L153.8 184.6L150.8 181.1ZM154.8 175.9L157.8 179.4L154.8 182.8L151.7 179.4ZM174.5 195.9L177.6 199.4L174.5 202.8L171.5 199.4ZM177.6 196.6L180.6 200.0L177.6 203.5L174.5 200.0ZM177.0 192.3L180.1 195.7L177.0 199.2L174.0 195.7ZM180.7 193.7L183.7 197.2L180.7 200.6L177.6 197.2ZM181.0 190.6L184.0 194.1L181.0 197.5L177.9 194.1ZM182.3 188.9L185.4 192.4L182.3 195.8L179.3 192.4ZM183.9 187.6L187.0 191.0L183.9 194.5L180.9 191.0ZM186.1 187.0L189.1 190.4L186.1 193.9L183.0 190.4ZM189.0 187.4L192.0 190.8L189.0 194.3L185.9 190.8ZM194.0 199.6L197.1 203.0L194.0 206.4L190.9 203.0ZM199.5 198.6L202.6 202.0L199.5 205.4L196.4 202.0ZM189.8 208.5L192.9 211.9L189.8 215.3L186.8 211.9ZM201.0 191.5L204.0 194.9L201.0 198.4L197.9 194.9ZM203.0 192.3L206.1 195.8L203.0 199.2L200.0 195.8ZM204.5 191.9L207.6 195.3L204.5 198.8L201.5 195.3ZM205.5 190.3L208.5 193.7L205.5 197.2L202.4 193.7ZM207.2 190.3L210.2 193.7L207.2 197.2L204.1 193.7ZM207.8 187.8L210.8 191.3L207.8 194.7L204.7 191.3ZM215.2 203.7L218.2 207.2L215.2 210.6L212.1 207.2ZM217.0 203.2L220.1 206.7L217.0 210.1L214.0 206.7ZM219.4 203.6L222.4 207.1L219.4 210.5L216.3 207.1ZM220.5 202.0L223.6 205.5L220.5 208.9L217.5 205.5ZM221.9 200.8L225.0 204.2L221.9 207.7L218.9 204.2ZM224.0 200.6L227.0 204.1L224.0 207.5L220.9 204.1ZM225.3 199.3L228.4 202.8L225.3 206.2L222.3 202.8ZM226.7 198.0L229.7 201.4L226.7 204.9L223.6 201.4ZM229.1 198.5L232.1 201.9L229.1 205.4L226.0 201.9ZM234.5 204.1L237.6 207.5L234.5 210.9L231.4 207.5ZM232.7 223.6L235.8 227.0L232.7 230.5L229.7 227.0ZM232.2 219.5L235.3 222.9L232.2 226.4L229.2 222.9ZM234.7 221.4L237.8 224.8L234.7 228.3L231.7 224.8ZM235.8 220.4L238.8 223.8L235.8 227.3L232.7 223.8ZM238.4 222.4L241.4 225.9L238.4 229.3L235.3 225.9ZM239.1 220.7L242.1 224.1L239.1 227.6L236.0 224.1ZM238.6 216.6L241.6 220.1L238.6 223.5L235.5 220.1ZM242.5 221.3L245.6 224.8L242.5 228.2L239.5 224.8ZM240.4 214.1L243.5 217.5L240.4 221.0L237.4 217.5ZM242.8 215.7L245.9 219.2L242.8 222.6L239.8 219.2ZM245.4 217.7L248.4 221.2L245.4 224.6L242.3 221.2ZM244.3 212.4L247.3 215.9L244.3 219.3L241.2 215.9ZM246.8 214.4L249.9 217.8L246.8 221.3L243.8 217.8ZM246.3 210.3L249.4 213.8L246.3 217.2L243.3 213.8ZM250.0 214.5L253.1 218.0L250.0 221.4L247.0 218.0ZM251.6 214.6L254.7 218.1L251.6 221.5L248.6 218.1ZM252.1 212.5L255.2 216.0L252.1 219.4L249.1 216.0ZM254.6 214.2L257.6 217.7L254.6 221.1L251.5 217.7ZM253.6 209.3L256.6 212.7L253.6 216.2L250.5 212.7ZM256.3 211.6L259.4 215.0L256.3 218.5L253.3 215.0ZM257.2 210.2L260.2 213.6L257.2 217.1L254.1 213.6ZM258.4 209.4L261.4 212.9L258.4 216.3L255.3 212.9ZM259.1 207.8L262.2 211.3L259.1 214.7L256.1 211.3ZM261.9 210.2L264.9 213.6L261.9 217.1L258.8 213.6ZM225.2 226.9L228.2 230.3L225.2 233.8L222.1 230.3ZM242.6 227.2L245.7 230.6L242.6 234.0L239.5 230.6ZM231.1 231.5L234.2 234.9L231.1 238.3L228.0 234.9ZM262.0 239.1L265.1 242.5L262.0 246.0L259.0 242.5ZM262.1 236.3L265.1 239.7L262.1 243.2L259.0 239.7ZM264.0 236.1L267.0 239.5L264.0 243.0L260.9 239.5ZM263.7 232.7L266.7 236.2L263.7 239.6L260.6 236.2ZM266.8 234.4L269.9 237.8L266.8 241.3L263.8 237.8ZM268.0 233.2L271.1 236.7L268.0 240.1L265.0 236.7ZM270.3 233.6L273.4 237.1L270.3 240.5L267.3 237.1ZM271.2 232.0L274.3 235.5L271.2 238.9L268.2 235.5ZM271.1 228.9L274.1 232.4L271.1 235.8L268.0 232.4ZM273.2 238.2L276.2 241.7L273.2 245.1L270.1 241.7ZM277.4 244.8L280.5 248.2L277.4 251.7L274.4 248.2ZM279.6 244.8L282.7 248.3L279.6 251.7L276.6 248.3ZM279.1 241.3L282.2 244.7L279.1 248.2L276.1 244.7ZM281.8 241.9L284.9 245.4L281.8 248.8L278.8 245.4ZM282.3 239.7L285.4 243.2L282.3 246.6L279.3 243.2ZM283.6 238.5L286.6 241.9L283.6 245.4L280.5 241.9ZM284.8 237.2L287.9 240.7L284.8 244.1L281.8 240.7ZM288.3 238.9L291.3 242.4L288.3 245.8L285.2 242.4ZM287.8 235.4L290.8 238.8L287.8 242.3L284.7 238.8ZM289.5 234.8L292.6 238.2L289.5 241.7L286.5 238.2ZM291.3 234.3L294.4 237.8L291.3 241.2L288.3 237.8ZM294.1 235.1L297.2 238.6L294.1 242.0L291.1 238.6ZM307.9 247.7L311.0 251.2L307.9 254.6L304.9 251.2ZM310.1 248.5L313.2 252.0L310.1 255.4L307.1 252.0ZM311.7 248.2L314.8 251.7L311.7 255.1L308.7 251.7ZM313.8 248.9L316.9 252.4L313.8 255.8L310.8 252.4ZM315.0 247.9L318.0 251.4L315.0 254.8L311.9 251.4ZM316.4 247.4L319.5 250.8L316.4 254.3L313.4 250.8ZM316.4 244.1L319.4 247.6L316.4 251.0L313.3 247.6ZM318.0 244.0L321.1 247.4L318.0 250.9L315.0 247.4ZM319.2 243.0L322.3 246.5L319.2 249.9L316.2 246.5ZM310.5 270.8L313.6 274.2L310.5 277.7L307.5 274.2ZM311.9 270.4L315.0 273.8L311.9 277.3L308.9 273.8ZM312.1 267.4L315.1 270.9L312.1 274.3L309.0 270.9ZM313.4 266.9L316.5 270.3L313.4 273.8L310.4 270.3ZM314.8 266.5L317.8 269.9L314.8 273.4L311.7 269.9ZM316.1 265.9L319.1 269.3L316.1 272.8L313.0 269.3ZM317.7 266.0L320.7 269.5L317.7 272.9L314.6 269.5ZM319.1 265.7L322.2 269.2L319.1 272.6L316.1 269.2ZM317.5 264.6L320.6 268.1L317.5 271.5L314.5 268.1ZM316.9 261.6L320.0 265.0L316.9 268.5L313.9 265.0ZM320.2 265.1L323.2 268.6L320.2 272.0L317.1 268.6ZM320.7 264.1L323.8 267.6L320.7 271.0L317.7 267.6ZM322.7 265.5L325.8 269.0L322.7 272.4L319.7 269.0ZM325.8 268.8L328.9 272.2L325.8 275.7L322.8 272.2ZM325.2 265.7L328.2 269.2L325.2 272.6L322.1 269.2ZM325.1 263.5L328.1 266.9L325.1 270.4L322.0 266.9ZM326.5 264.0L329.6 267.4L326.5 270.9L323.5 267.4ZM327.7 264.0L330.8 267.5L327.7 270.9L324.7 267.5ZM325.0 257.5L328.0 260.9L325.0 264.4L321.9 260.9ZM330.7 265.2L333.8 268.6L330.7 272.1L327.7 268.6ZM330.9 263.5L334.0 267.0L330.9 270.4L327.9 267.0ZM332.3 263.9L335.4 267.4L332.3 270.8L329.3 267.4ZM332.8 262.7L335.8 266.1L332.8 269.6L329.7 266.1ZM331.3 258.2L334.3 261.6L331.3 265.1L328.2 261.6ZM332.2 257.7L335.2 261.2L332.2 264.6L329.1 261.2ZM331.3 254.3L334.4 257.8L331.3 261.2L328.3 257.8ZM335.3 259.0L338.3 262.5L335.3 265.9L332.2 262.5ZM332.8 252.9L335.9 256.4L332.8 259.8L329.8 256.4ZM333.7 252.5L336.8 255.9L333.7 259.4L330.7 255.9ZM335.4 253.3L338.5 256.8L335.4 260.2L332.4 256.8ZM350.0 280.5L353.1 283.9L350.0 287.4L347.0 283.9ZM352.0 281.0L355.1 284.4L352.0 287.9L349.0 284.4ZM353.8 279.6L356.8 283.1L353.8 286.5L350.7 283.1ZM355.7 279.2L358.7 282.7L355.7 286.1L352.6 282.7ZM357.6 279.6L360.7 283.1L357.6 286.5L354.6 283.1ZM359.5 279.2L362.5 282.7L359.5 286.1L356.4 282.7ZM361.5 280.1L364.5 283.5L361.5 287.0L358.4 283.5ZM363.2 278.5L366.3 282.0L363.2 285.4L360.2 282.0ZM365.5 281.8L368.5 285.2L365.5 288.7L362.4 285.2ZM367.3 280.5L370.3 284.0L367.3 287.4L364.2 284.0ZM369.0 278.4L372.0 281.9L369.0 285.3L365.9 281.9ZM370.9 278.7L374.0 282.1L370.9 285.6L367.9 282.1ZM372.9 278.9L375.9 282.3L372.9 285.8L369.8 282.3ZM374.8 278.7L377.8 282.2L374.8 285.6L371.7 282.2ZM362.0 276.1L365.1 279.5L362.0 282.9L358.9 279.5ZM357.1 288.1L360.2 291.5L357.1 294.9L354.1 291.5ZM376.3 300.2L379.3 303.6L376.3 307.1L373.2 303.6ZM376.5 294.8L379.5 298.3L376.5 301.7L373.4 298.3ZM368.7 295.3L371.7 298.7L368.7 302.2L365.6 298.7ZM374.8 297.9L377.8 301.3L374.8 304.8L371.7 301.3ZM370.3 302.3L373.4 305.8L370.3 309.2L367.3 305.8ZM371.6 296.1L374.7 299.5L371.6 303.0L368.6 299.5ZM376.5 293.3L379.6 296.7L376.5 300.2L373.5 296.7ZM374.6 299.7L377.6 303.2L374.6 306.6L371.5 303.2ZM376.7 296.0L379.8 299.5L376.7 302.9L373.7 299.5ZM378.4 294.0L381.4 297.5L378.4 300.9L375.3 297.5ZM369.6 291.2L372.7 294.6L369.6 298.1L366.6 294.6ZM368.8 297.5L371.9 300.9L368.8 304.4L365.8 300.9ZM371.8 289.3L374.9 292.7L371.8 296.2L368.8 292.7ZM371.8 290.5L374.9 294.0L371.8 297.4L368.8 294.0ZM372.2 302.2L375.3 305.6L372.2 309.1L369.2 305.6ZM378.4 294.4L381.4 297.8L378.4 301.3L375.3 297.8ZM373.5 288.3L376.5 291.7L373.5 295.2L370.4 291.7ZM370.8 291.2L373.8 294.7L370.8 298.1L367.7 294.7ZM366.3 294.5L369.3 298.0L366.3 301.4L363.2 298.0ZM372.3 295.3L375.4 298.7L372.3 302.2L369.3 298.7ZM381.9 293.5L385.0 297.0L381.9 300.4L378.9 297.0ZM383.6 293.1L386.6 296.5L383.6 300.0L380.5 296.5ZM385.7 294.8L388.7 298.2L385.7 301.7L382.6 298.2ZM387.6 295.7L390.7 299.1L387.6 302.6L384.6 299.1ZM388.8 292.9L391.8 296.4L388.8 299.8L385.7 296.4ZM390.9 294.9L394.0 298.3L390.9 301.8L387.9 298.3ZM392.7 294.8L395.7 298.2L392.7 301.7L389.6 298.2ZM394.3 294.2L397.4 297.7L394.3 301.1L391.3 297.7ZM395.4 291.1L398.4 294.5L395.4 298.0L392.3 294.5ZM396.9 290.0L399.9 293.5L396.9 296.9L393.8 293.5ZM398.6 289.7L401.6 293.2L398.6 296.6L395.5 293.2ZM399.1 311.5L402.1 315.0L399.1 318.4L396.0 315.0ZM400.2 311.2L403.3 314.6L400.2 318.1L397.2 314.6ZM402.7 314.6L405.8 318.1L402.7 321.5L399.7 318.1ZM404.8 316.7L407.8 320.2L404.8 323.6L401.7 320.2ZM405.7 315.7L408.8 319.2L405.7 322.6L402.7 319.2ZM405.6 312.0L408.7 315.5L405.6 318.9L402.6 315.5ZM407.3 313.2L410.4 316.7L407.3 320.1L404.3 316.7ZM408.9 314.1L412.0 317.6L408.9 321.0L405.9 317.6ZM407.7 307.2L410.7 310.7L407.7 314.1L404.6 310.7ZM410.7 312.0L413.8 315.5L410.7 318.9L407.7 315.5ZM412.7 313.9L415.7 317.4L412.7 320.8L409.6 317.4ZM413.4 312.3L416.4 315.8L413.4 319.2L410.3 315.8ZM414.4 311.6L417.4 315.1L414.4 318.5L411.3 315.1ZM414.6 308.7L417.7 312.2L414.6 315.6L411.6 312.2ZM414.7 305.6L417.8 309.0L414.7 312.5L411.7 309.0ZM417.9 310.7L421.0 314.2L417.9 317.6L414.9 314.2ZM417.5 306.2L420.6 309.6L417.5 313.1L414.5 309.6ZM420.2 310.0L423.2 313.5L420.2 316.9L417.1 313.5ZM421.9 311.2L424.9 314.6L421.9 318.1L418.8 314.6ZM421.1 305.5L424.1 309.0L421.1 312.4L418.0 309.0ZM422.2 305.1L425.3 308.6L422.2 312.0L419.2 308.6ZM425.2 309.7L428.2 313.2L425.2 316.6L422.1 313.2ZM425.6 307.3L428.6 310.7L425.6 314.2L422.5 310.7ZM424.8 301.8L427.9 305.2L424.8 308.7L421.8 305.2ZM438.1 330.9L441.1 334.4L438.1 337.8L435.0 334.4ZM442.6 327.0L445.6 330.5L442.6 333.9L439.5 330.5ZM440.7 333.2L443.8 336.6L440.7 340.1L437.7 336.6ZM443.1 329.0L446.2 332.5L443.1 335.9L440.1 332.5ZM431.3 332.5L434.4 336.0L431.3 339.4L428.3 336.0ZM436.3 330.0L439.3 333.4L436.3 336.9L433.2 333.4ZM443.0 328.8L446.1 332.3L443.0 335.7L440.0 332.3ZM426.4 328.7L429.5 332.2L426.4 335.6L423.4 332.2ZM427.4 331.4L430.4 334.9L427.4 338.3L424.3 334.9ZM437.5 327.5L440.6 331.0L437.5 334.4L434.5 331.0ZM435.4 332.3L438.5 335.7L435.4 339.2L432.4 335.7ZM435.9 333.4L439.0 336.8L435.9 340.3L432.9 336.8ZM435.1 332.8L438.2 336.2L435.1 339.7L432.1 336.2ZM441.7 333.0L444.7 336.5L441.7 339.9L438.6 336.5ZM431.6 332.2L434.6 335.7L431.6 339.1L428.5 335.7ZM427.7 327.2L430.7 330.6L427.7 334.1L424.6 330.6ZM427.5 331.8L430.6 335.3L427.5 338.7L424.5 335.3ZM428.6 329.5L431.6 333.0L428.6 336.4L425.5 333.0ZM449.1 323.7L452.2 327.1L449.1 330.6L446.1 327.1ZM438.9 344.0L442.0 347.4L438.9 350.9L435.9 347.4ZM438.3 340.2L441.4 343.6L438.3 347.1L435.3 343.6ZM441.2 341.8L444.3 345.2L441.2 348.7L438.2 345.2ZM441.6 339.4L444.6 342.9L441.6 346.3L438.5 342.9ZM442.2 337.5L445.2 340.9L442.2 344.4L439.1 340.9ZM446.6 341.3L449.6 344.8L446.6 348.2L443.5 344.8ZM445.5 336.8L448.5 340.2L445.5 343.7L442.4 340.2ZM447.9 337.7L451.0 341.1L447.9 344.6L444.9 341.1ZM450.2 338.3L453.3 341.8L450.2 345.2L447.2 341.8ZM450.9 336.5L453.9 339.9L450.9 343.4L447.8 339.9ZM451.3 334.2L454.4 337.7L451.3 341.1L448.3 337.7ZM453.4 334.5L456.4 338.0L453.4 341.4L450.3 338.0ZM454.8 333.9L457.9 337.3L454.8 340.8L451.8 337.3ZM457.0 334.4L460.0 337.8L457.0 341.3L453.9 337.8ZM455.7 329.5L458.8 333.0L455.7 336.4L452.7 333.0ZM458.8 331.3L461.8 334.8L458.8 338.2L455.7 334.8ZM458.9 328.6L461.9 332.1L458.9 335.5L455.8 332.1ZM460.3 327.9L463.4 331.4L460.3 334.8L457.3 331.4ZM440.3 347.1L443.4 350.5L440.3 353.9L437.2 350.5ZM441.0 362.9L444.1 366.4L441.0 369.8L437.9 366.4ZM459.0 345.7L462.0 349.2L459.0 352.6L455.9 349.2ZM459.9 344.1L463.0 347.5L459.9 351.0L456.9 347.5ZM461.4 343.7L464.5 347.1L461.4 350.6L458.4 347.1ZM463.2 343.8L466.3 347.3L463.2 350.7L460.2 347.3ZM464.9 343.8L467.9 347.3L464.9 350.7L461.8 347.3ZM465.5 341.3L468.5 344.8L465.5 348.2L462.4 344.8ZM467.2 341.4L470.2 344.8L467.2 348.3L464.1 344.8ZM487.7 368.5L490.8 371.9L487.7 375.4L484.7 371.9ZM488.4 366.6L491.5 370.0L488.4 373.5L485.4 370.0ZM490.2 365.1L493.3 368.5L490.2 372.0L487.2 368.5ZM489.3 362.7L492.4 366.1L489.3 369.6L486.3 366.1ZM490.5 361.0L493.5 364.4L490.5 367.9L487.4 364.4ZM490.8 358.9L493.8 362.4L490.8 365.8L487.7 362.4ZM494.4 358.1L497.4 361.5L494.4 365.0L491.3 361.5ZM493.5 355.6L496.5 359.1L493.5 362.5L490.4 359.1ZM495.3 354.1L498.3 357.6L495.3 361.0L492.2 357.6ZM496.3 352.4L499.4 355.8L496.3 359.3L493.3 355.8ZM492.6 349.0L495.7 352.5L492.6 355.9L489.6 352.5ZM495.2 347.8L498.2 351.2L495.2 354.7L492.1 351.2ZM491.5 371.9L494.6 375.3L491.5 378.8L488.5 375.3ZM492.0 370.0L495.0 373.5L492.0 376.9L488.9 373.5ZM488.3 364.3L491.3 367.7L488.3 371.2L485.2 367.7ZM489.3 363.0L492.3 366.4L489.3 369.9L486.2 366.4ZM492.6 363.9L495.6 367.4L492.6 370.8L489.5 367.4ZM491.2 360.3L494.2 363.8L491.2 367.2L488.1 363.8ZM493.4 360.3L496.5 363.7L493.4 367.2L490.4 363.7ZM493.4 358.0L496.5 361.5L493.4 364.9L490.4 361.5ZM498.6 360.7L501.6 364.2L498.6 367.6L495.5 364.2ZM500.5 360.3L503.5 363.8L500.5 367.2L497.4 363.8ZM502.4 359.9L505.4 363.3L502.4 366.8L499.3 363.3ZM498.4 353.9L501.5 357.3L498.4 360.8L495.4 357.3ZM503.4 356.4L506.4 359.8L503.4 363.3L500.3 359.8ZM504.1 354.9L507.2 358.3L504.1 361.8L501.1 358.3ZM501.7 350.3L504.7 353.8L501.7 357.2L498.6 353.8ZM507.9 354.0L510.9 357.4L507.9 360.9L504.8 357.4ZM509.6 353.4L512.6 356.8L509.6 360.3L506.5 356.8ZM505.6 347.3L508.6 350.8L505.6 354.2L502.5 350.8ZM496.2 363.1L499.3 366.5L496.2 370.0L493.2 366.5ZM493.9 358.8L496.9 362.3L493.9 365.7L490.8 362.3ZM495.6 357.7L498.7 361.2L495.6 364.6L492.6 361.2ZM500.0 358.8L503.1 362.2L500.0 365.7L497.0 362.2ZM500.2 356.5L503.3 359.9L500.2 363.4L497.2 359.9ZM497.1 351.6L500.2 355.0L497.1 358.5L494.1 355.0ZM500.0 351.4L503.1 354.9L500.0 358.3L497.0 354.9ZM501.7 350.4L504.8 353.8L501.7 357.3L498.7 353.8ZM481.6 367.4L484.7 370.8L481.6 374.2L478.6 370.8ZM505.6 386.3L508.7 389.7L505.6 393.2L502.6 389.7ZM506.2 384.5L509.3 388.0L506.2 391.4L503.2 388.0ZM507.9 384.6L511.0 388.0L507.9 391.5L504.9 388.0ZM510.9 386.6L514.0 390.0L510.9 393.5L507.9 390.0ZM509.0 381.0L512.1 384.5L509.0 387.9L506.0 384.5ZM512.6 383.9L515.6 387.3L512.6 390.8L509.5 387.3ZM513.3 382.3L516.3 385.8L513.3 389.2L510.2 385.8ZM512.6 378.7L515.6 382.1L512.6 385.6L509.5 382.1ZM515.2 380.0L518.2 383.5L515.2 386.9L512.1 383.5ZM517.6 381.3L520.7 384.7L517.6 388.2L514.6 384.7ZM518.3 379.7L521.4 383.2L518.3 386.6L515.3 383.2ZM517.6 375.9L520.6 379.4L517.6 382.8L514.5 379.4ZM522.8 381.4L525.9 384.9L522.8 388.3L519.8 384.9ZM523.1 379.3L526.2 382.7L523.1 386.2L520.1 382.7ZM525.1 379.8L528.2 383.2L525.1 386.7L522.1 383.2ZM522.5 373.1L525.6 376.5L522.5 380.0L519.5 376.5ZM524.4 373.4L527.5 376.9L524.4 380.3L521.4 376.9ZM524.6 371.1L527.7 374.6L524.6 378.0L521.6 374.6ZM532.4 383.9L535.4 387.3L532.4 390.8L529.3 387.3ZM532.1 381.3L535.2 384.7L532.1 388.2L529.1 384.7ZM532.9 379.8L535.9 383.2L532.9 386.7L529.8 383.2ZM534.9 379.5L537.9 383.0L534.9 386.4L531.8 383.0ZM537.4 379.9L540.4 383.3L537.4 386.8L534.3 383.3ZM538.3 378.5L541.3 381.9L538.3 385.4L535.2 381.9ZM542.1 379.7L545.1 383.2L542.1 386.6L539.0 383.2ZM542.6 381.0L545.6 384.5L542.6 387.9L539.5 384.5ZM539.5 382.5L542.6 385.9L539.5 389.4L536.5 385.9ZM541.0 383.7L544.0 387.2L541.0 390.6L537.9 387.2ZM540.5 385.1L543.6 388.5L540.5 392.0L537.5 388.5ZM543.1 386.3L546.1 389.7L543.1 393.2L540.0 389.7ZM540.3 391.3L543.3 394.7L540.3 398.2L537.2 394.7ZM537.7 390.0L540.7 393.5L537.7 396.9L534.6 393.5ZM537.2 391.7L540.3 395.1L537.2 398.6L534.2 395.1ZM537.0 393.6L540.0 397.0L537.0 400.5L533.9 397.0ZM533.8 391.5L536.9 395.0L533.8 398.4L530.8 395.0ZM533.5 393.3L536.5 396.8L533.5 400.2L530.4 396.8ZM521.0 393.4L524.0 396.9L521.0 400.3L517.9 396.9ZM522.2 392.1L525.3 395.5L522.2 398.9L519.2 395.5ZM523.5 390.7L526.6 394.1L523.5 397.6L520.5 394.1ZM546.4 397.9L549.4 401.4L546.4 404.8L543.3 401.4ZM547.6 397.2L550.7 400.6L547.6 404.1L544.6 400.6ZM548.9 396.4L551.9 399.9L548.9 403.3L545.8 399.9ZM550.1 395.7L553.2 399.1L550.1 402.6L547.1 399.1ZM574.0 410.1L577.1 413.6L574.0 417.0L571.0 413.6ZM576.6 411.1L579.6 414.6L576.6 418.0L573.5 414.6ZM575.8 407.0L578.8 410.4L575.8 413.9L572.7 410.4ZM576.7 405.4L579.7 408.9L576.7 412.3L573.6 408.9ZM579.3 406.6L582.4 410.0L579.3 413.5L576.3 410.0ZM579.7 404.3L582.8 407.7L579.7 411.2L576.7 407.7ZM580.6 402.7L583.7 406.2L580.6 409.6L577.6 406.2ZM582.2 402.1L585.2 405.6L582.2 409.0L579.1 405.6ZM583.1 400.7L586.2 404.2L583.1 407.6L580.1 404.2ZM585.0 400.6L588.0 404.1L585.0 407.5L581.9 404.1ZM586.7 400.3L589.7 403.8L586.7 407.2L583.6 403.8ZM588.0 399.4L591.0 402.9L588.0 406.3L584.9 402.9ZM590.8 400.8L593.8 404.3L590.8 407.7L587.7 404.3ZM590.6 397.6L593.7 401.1L590.6 404.5L587.6 401.1ZM592.6 397.8L595.7 401.3L592.6 404.7L589.6 401.3ZM592.9 395.3L596.0 398.8L592.9 402.2L589.9 398.8ZM594.8 395.3L597.9 398.8L594.8 402.2L591.8 398.8ZM595.1 392.8L598.2 396.3L595.1 399.7L592.1 396.3ZM605.4 411.2L608.4 414.7L605.4 418.1L602.4 414.7ZM630.5 439.9L633.5 443.3L630.5 446.8L627.5 443.3ZM613.7 448.9L616.7 452.3L613.7 455.8L610.6 452.3ZM614.0 446.5L617.1 450.0L614.0 453.4L611.0 450.0ZM618.4 449.2L621.5 452.6L618.4 456.1L615.4 452.6ZM619.0 447.1L622.1 450.6L619.0 454.0L616.0 450.6ZM618.9 444.1L621.9 447.6L618.9 451.0L615.8 447.6ZM621.4 444.5L624.5 448.0L621.4 451.4L618.4 448.0ZM624.8 445.8L627.8 449.3L624.8 452.7L621.7 449.3ZM622.6 440.4L625.7 443.8L622.6 447.3L619.6 443.8ZM661.7 481.8L664.7 485.3L661.7 488.7L658.6 485.3ZM663.6 479.5L666.6 482.9L663.6 486.4L660.5 482.9ZM666.1 477.9L669.1 481.3L666.1 484.8L663.0 481.3ZM668.9 476.8L671.9 480.2L668.9 483.7L665.8 480.2ZM670.7 474.3L673.7 477.8L670.7 481.2L667.6 477.8ZM673.2 472.8L676.3 476.3L673.2 479.7L670.2 476.3ZM681.6 462.8L684.6 466.2L681.6 469.6L678.6 466.2ZM694.7 480.1L697.7 483.5L694.7 487.0L691.6 483.5ZM695.9 479.3L698.9 482.8L695.9 486.2L692.8 482.8ZM696.2 477.8L699.2 481.2L696.2 484.7L693.1 481.2ZM697.6 477.2L700.6 480.6L697.6 484.1L694.5 480.6ZM702.0 477.9L705.0 481.3L702.0 484.8L699.0 481.3ZM706.6 470.9L709.6 474.4L706.6 477.8L703.6 474.4ZM707.5 492.2L710.5 495.7L707.5 499.1L704.5 495.7ZM698.7 503.9L701.8 507.3L698.7 510.8L695.7 507.3ZM691.7 506.9L694.8 510.4L691.7 513.9L688.7 510.4Z" fill="#ed7d31" stroke="#ed7d31" stroke-width="0.6" stroke-linejoin="round"/>
<path d="M228.2 233.4L231.2 236.8L228.2 240.3L225.1 236.8ZM227.2 233.9L230.3 237.3L227.2 240.8L224.2 237.3ZM227.6 232.4L230.7 235.9L227.6 239.3L224.6 235.9ZM227.8 234.8L230.8 238.2L227.8 241.7L224.7 238.2ZM227.3 235.3L230.3 238.7L227.3 242.2L224.2 238.7ZM227.1 235.3L230.2 238.8L227.1 242.2L224.1 238.8ZM229.0 234.5L232.1 238.0L229.0 241.4L226.0 238.0ZM230.1 234.5L233.1 237.9L230.1 241.4L227.0 237.9ZM228.8 234.5L231.8 237.9L228.8 241.4L225.7 237.9ZM301.0 276.9L304.1 280.3L301.0 283.8L298.0 280.3ZM301.4 277.5L304.5 280.9L301.4 284.4L298.4 280.9ZM301.3 277.2L304.3 280.7L301.3 284.1L298.2 280.7ZM300.1 276.9L303.1 280.4L300.1 283.8L297.0 280.4ZM299.2 276.2L302.2 279.6L299.2 283.1L296.1 279.6ZM299.5 277.5L302.6 280.9L299.5 284.4L296.5 280.9ZM307.4 284.5L310.4 288.0L307.4 291.4L304.3 288.0ZM306.9 284.7L310.0 288.1L306.9 291.6L303.9 288.1ZM306.3 283.6L309.3 287.0L306.3 290.5L303.2 287.0ZM308.7 282.6L311.7 286.1L308.7 289.5L305.6 286.1ZM308.2 283.0L311.2 286.5L308.2 289.9L305.1 286.5ZM309.1 283.0L312.2 286.5L309.1 289.9L306.1 286.5ZM310.0 280.8L313.1 284.2L310.0 287.7L307.0 284.2ZM309.6 280.8L312.6 284.2L309.6 287.7L306.5 284.2ZM309.9 280.7L313.0 284.1L309.9 287.6L306.9 284.1ZM311.3 278.9L314.4 282.3L311.3 285.8L308.3 282.3ZM310.5 279.7L313.5 283.2L310.5 286.6L307.4 283.2ZM310.7 279.9L313.7 283.4L310.7 286.8L307.6 283.4ZM328.6 284.5L331.6 288.0L328.6 291.4L325.5 288.0ZM329.5 283.5L332.6 286.9L329.5 290.4L326.5 286.9ZM328.5 285.2L331.5 288.7L328.5 292.1L325.4 288.7ZM330.2 282.9L333.3 286.4L330.2 289.8L327.2 286.4ZM331.3 282.8L334.3 286.3L331.3 289.7L328.2 286.3ZM329.7 282.3L332.8 285.8L329.7 289.2L326.7 285.8ZM331.9 281.4L335.0 284.8L331.9 288.3L328.9 284.8ZM332.9 280.7L335.9 284.2L332.9 287.6L329.8 284.2ZM332.1 280.6L335.1 284.0L332.1 287.5L329.0 284.0ZM341.6 301.3L344.6 304.7L341.6 308.2L338.5 304.7ZM341.6 302.2L344.7 305.7L341.6 309.1L338.6 305.7ZM340.7 302.0L343.8 305.4L340.7 308.9L337.7 305.4ZM341.3 301.4L344.4 304.8L341.3 308.3L338.3 304.8ZM341.4 302.2L344.4 305.7L341.4 309.1L338.3 305.7ZM341.8 300.8L344.8 304.3L341.8 307.7L338.7 304.3ZM344.5 300.6L347.6 304.0L344.5 307.5L341.5 304.0ZM345.4 300.6L348.4 304.0L345.4 307.5L342.3 304.0ZM343.5 299.5L346.5 302.9L343.5 306.4L340.4 302.9ZM341.4 300.8L344.4 304.2L341.4 307.7L338.3 304.2ZM341.3 300.7L344.4 304.1L341.3 307.6L338.3 304.1ZM340.9 300.0L344.0 303.4L340.9 306.9L337.9 303.4ZM343.6 300.8L346.6 304.3L343.6 307.7L340.5 304.3ZM343.3 300.4L346.3 303.9L343.3 307.3L340.2 303.9ZM344.3 299.7L347.4 303.2L344.3 306.6L341.3 303.2ZM378.1 325.1L381.1 328.6L378.1 332.0L375.0 328.6ZM378.6 325.9L381.7 329.3L378.6 332.8L375.6 329.3ZM377.2 326.1L380.3 329.5L377.2 333.0L374.2 329.5ZM379.9 324.5L383.0 328.0L379.9 331.4L376.9 328.0ZM380.4 325.4L383.4 328.8L380.4 332.3L377.3 328.8ZM379.5 324.2L382.5 327.7L379.5 331.1L376.4 327.7ZM381.8 323.9L384.8 327.3L381.8 330.8L378.7 327.3ZM381.5 325.0L384.6 328.4L381.5 331.9L378.5 328.4ZM382.0 323.6L385.0 327.0L382.0 330.5L378.9 327.0ZM383.6 323.3L386.7 326.7L383.6 330.2L380.6 326.7ZM383.5 322.8L386.5 326.2L383.5 329.7L380.4 326.2ZM382.6 322.4L385.7 325.8L382.6 329.3L379.6 325.8ZM394.7 334.4L397.8 337.8L394.7 341.3L391.7 337.8ZM395.5 333.9L398.5 337.4L395.5 340.8L392.4 337.4ZM395.7 333.8L398.7 337.3L395.7 340.7L392.6 337.3ZM396.6 332.9L399.6 336.3L396.6 339.8L393.5 336.3ZM396.1 332.9L399.1 336.4L396.1 339.8L393.0 336.4ZM395.9 332.6L398.9 336.1L395.9 339.5L392.8 336.1ZM398.4 331.4L401.5 334.9L398.4 338.3L395.4 334.9ZM399.4 332.3L402.5 335.7L399.4 339.2L396.4 335.7ZM399.1 331.7L402.2 335.1L399.1 338.6L396.1 335.1ZM400.3 329.9L403.3 333.4L400.3 336.8L397.2 333.4ZM401.2 330.9L404.2 334.3L401.2 337.8L398.1 334.3ZM400.4 330.4L403.4 333.9L400.4 337.3L397.3 333.9ZM409.6 330.3L412.7 333.7L409.6 337.2L406.6 333.7ZM408.6 330.8L411.7 334.2L408.6 337.7L405.6 334.2ZM409.5 330.8L412.6 334.3L409.5 337.7L406.5 334.3ZM411.2 328.9L414.3 332.3L411.2 335.8L408.2 332.3ZM411.5 328.4L414.6 331.8L411.5 335.3L408.5 331.8ZM410.2 329.8L413.3 333.2L410.2 336.7L407.2 333.2ZM412.8 327.4L415.8 330.9L412.8 334.3L409.7 330.9ZM412.0 327.4L415.0 330.8L412.0 334.3L408.9 330.8ZM412.4 327.0L415.5 330.4L412.4 333.9L409.4 330.4ZM414.4 326.0L417.4 329.5L414.4 332.9L411.3 329.5ZM414.9 327.1L417.9 330.5L414.9 334.0L411.8 330.5ZM413.8 326.4L416.9 329.8L413.8 333.3L410.8 329.8ZM416.9 350.1L419.9 353.5L416.9 357.0L413.8 353.5ZM416.4 350.2L419.5 353.7L416.4 357.1L413.4 353.7ZM416.6 349.4L419.7 352.8L416.6 356.3L413.6 352.8ZM418.5 348.7L421.5 352.1L418.5 355.6L415.4 352.1ZM417.7 348.0L420.8 351.5L417.7 354.9L414.7 351.5ZM419.4 348.7L422.4 352.1L419.4 355.6L416.3 352.1ZM420.1 347.2L423.2 350.7L420.1 354.1L417.1 350.7ZM419.5 348.1L422.5 351.6L419.5 355.0L416.4 351.6ZM421.2 347.1L424.2 350.6L421.2 354.0L418.1 350.6ZM421.7 345.8L424.8 349.3L421.7 352.7L418.7 349.3ZM420.9 345.1L424.0 348.6L420.9 352.0L417.9 348.6ZM420.8 345.5L423.9 348.9L420.8 352.4L417.8 348.9ZM423.3 344.4L426.4 347.9L423.3 351.3L420.3 347.9ZM422.4 343.8L425.5 347.3L422.4 350.7L419.4 347.3ZM422.8 344.6L425.9 348.0L422.8 351.5L419.8 348.0ZM413.5 354.8L416.6 358.2L413.5 361.6L410.4 358.2ZM414.4 355.3L417.4 358.7L414.4 362.2L411.3 358.7ZM413.3 354.6L416.4 358.0L413.3 361.5L410.3 358.0ZM468.7 373.1L471.8 376.5L468.7 380.0L465.7 376.5ZM468.8 372.8L471.8 376.3L468.8 379.7L465.7 376.3ZM468.4 372.1L471.4 375.6L468.4 379.0L465.3 375.6ZM470.6 371.4L473.6 374.8L470.6 378.3L467.5 374.8ZM470.1 372.4L473.1 375.9L470.1 379.3L467.0 375.9ZM469.8 371.4L472.8 374.8L469.8 378.3L466.7 374.8ZM472.4 369.7L475.5 373.2L472.4 376.6L469.4 373.2ZM472.7 370.5L475.8 374.0L472.7 377.4L469.7 374.0ZM471.8 369.2L474.8 372.7L471.8 376.1L468.7 372.7ZM474.3 368.0L477.3 371.5L474.3 374.9L471.2 371.5ZM473.7 367.8L476.8 371.3L473.7 374.7L470.7 371.3ZM474.1 369.0L477.2 372.5L474.1 375.9L471.1 372.5ZM473.1 384.3L476.1 387.8L473.1 391.2L470.0 387.8ZM473.8 385.1L476.9 388.6L473.8 392.0L470.8 388.6ZM472.0 383.3L475.1 386.7L472.0 390.2L469.0 386.7ZM474.5 382.3L477.5 385.7L474.5 389.2L471.4 385.7ZM474.9 383.1L478.0 386.6L474.9 390.0L471.9 386.6ZM474.4 382.5L477.4 385.9L474.4 389.4L471.3 385.9ZM475.8 380.2L478.9 383.7L475.8 387.1L472.8 383.7ZM474.7 380.0L477.8 383.4L474.7 386.9L471.7 383.4ZM476.8 380.9L479.8 384.4L476.8 387.8L473.7 384.4ZM477.2 378.2L480.3 381.6L477.2 385.1L474.2 381.6ZM478.0 379.2L481.1 382.7L478.0 386.1L475.0 382.7ZM476.7 377.3L479.7 380.8L476.7 384.2L473.6 380.8ZM501.5 378.6L504.6 382.0L501.5 385.4L498.4 382.0ZM500.7 378.6L503.8 382.0L500.7 385.5L497.7 382.0ZM501.9 379.5L505.0 383.0L501.9 386.4L498.9 383.0ZM506.0 374.6L509.1 378.0L506.0 381.4L502.9 378.0ZM506.5 374.9L509.5 378.3L506.5 381.8L503.4 378.3ZM506.6 374.5L509.6 377.9L506.6 381.4L503.5 377.9ZM501.4 404.2L504.5 407.6L501.4 411.1L498.4 407.6ZM501.5 403.2L504.6 406.6L501.5 410.1L498.5 406.6ZM502.0 403.6L505.1 407.0L502.0 410.5L499.0 407.0ZM503.2 402.7L506.2 406.2L503.2 409.6L500.1 406.2ZM504.1 403.1L507.2 406.5L504.1 410.0L501.1 406.5ZM502.7 401.9L505.8 405.4L502.7 408.8L499.7 405.4ZM504.9 401.3L508.0 404.8L504.9 408.2L501.9 404.8ZM504.4 401.6L507.5 405.0L504.4 408.5L501.4 405.0ZM505.4 400.4L508.4 403.9L505.4 407.3L502.3 403.9ZM506.7 399.9L509.8 403.3L506.7 406.8L503.7 403.3ZM505.8 399.9L508.8 403.4L505.8 406.8L502.7 403.4ZM506.9 399.6L510.0 403.1L506.9 406.5L503.9 403.1ZM508.5 398.4L511.5 401.9L508.5 405.3L505.4 401.9ZM507.9 398.7L510.9 402.1L507.9 405.6L504.8 402.1ZM507.4 398.0L510.5 401.4L507.4 404.9L504.4 401.4ZM549.5 417.6L552.5 421.0L549.5 424.5L546.4 421.0ZM549.4 418.6L552.4 422.1L549.4 425.5L546.3 422.1ZM549.8 418.4L552.9 421.9L549.8 425.3L546.8 421.9ZM551.5 416.7L554.5 420.1L551.5 423.6L548.4 420.1ZM551.4 416.1L554.4 419.5L551.4 423.0L548.3 419.5ZM550.9 417.7L553.9 421.1L550.9 424.6L547.8 421.1ZM553.4 415.7L556.5 419.2L553.4 422.6L550.4 419.2ZM553.9 415.3L556.9 418.7L553.9 422.2L550.8 418.7ZM552.4 415.7L555.4 419.1L552.4 422.6L549.3 419.1ZM586.5 417.9L589.6 421.4L586.5 424.8L583.5 421.4ZM586.9 417.8L589.9 421.2L586.9 424.7L583.8 421.2ZM586.0 418.3L589.0 421.8L586.0 425.2L582.9 421.8ZM588.0 416.3L591.1 419.8L588.0 423.2L585.0 419.8ZM588.9 415.7L592.0 419.2L588.9 422.6L585.9 419.2ZM587.0 416.0L590.0 419.4L587.0 422.9L583.9 419.4ZM589.5 414.8L592.5 418.2L589.5 421.7L586.4 418.2ZM589.3 415.2L592.4 418.6L589.3 422.1L586.3 418.6ZM588.8 415.4L591.9 418.9L588.8 422.3L585.8 418.9ZM591.0 413.2L594.0 416.6L591.0 420.1L587.9 416.6ZM591.5 413.2L594.6 416.6L591.5 420.1L588.5 416.6ZM590.3 414.2L593.4 417.6L590.3 421.1L587.3 417.6ZM561.3 429.8L564.4 433.3L561.3 436.7L558.3 433.3ZM560.9 430.6L563.9 434.0L560.9 437.5L557.8 434.0ZM560.7 429.2L563.8 432.7L560.7 436.1L557.7 432.7ZM562.8 428.4L565.9 431.9L562.8 435.3L559.8 431.9ZM563.4 428.0L566.4 431.4L563.4 434.9L560.3 431.4ZM563.8 428.4L566.8 431.9L563.8 435.3L560.7 431.9ZM564.3 427.1L567.3 430.5L564.3 433.9L561.2 430.5ZM563.6 426.4L566.7 429.9L563.6 433.3L560.6 429.9ZM564.1 427.4L567.2 430.9L564.1 434.3L561.1 430.9ZM565.8 425.7L568.8 429.1L565.8 432.6L562.7 429.1ZM566.8 424.9L569.8 428.3L566.8 431.8L563.7 428.3ZM565.6 425.0L568.6 428.5L565.6 431.9L562.5 428.5ZM567.3 424.3L570.3 427.7L567.3 431.2L564.2 427.7ZM568.3 423.5L571.4 426.9L568.3 430.4L565.3 426.9ZM566.3 423.3L569.4 426.7L566.3 430.2L563.3 426.7ZM555.7 436.9L558.8 440.4L555.7 443.8L552.7 440.4ZM555.5 437.8L558.5 441.3L555.5 444.7L552.4 441.3ZM556.5 437.5L559.6 440.9L556.5 444.4L553.5 440.9ZM585.8 445.8L588.9 449.2L585.8 452.7L582.8 449.2ZM586.9 446.7L590.0 450.2L586.9 453.6L583.9 450.2ZM585.4 445.1L588.5 448.6L585.4 452.0L582.4 448.6ZM587.4 444.7L590.5 448.1L587.4 451.6L584.4 448.1ZM588.4 445.2L591.4 448.7L588.4 452.1L585.3 448.7ZM586.4 445.0L589.5 448.5L586.4 451.9L583.4 448.5ZM589.1 443.5L592.1 447.0L589.1 450.4L586.0 447.0ZM588.8 443.3L591.8 446.7L588.8 450.2L585.7 446.7ZM588.7 442.8L591.7 446.3L588.7 449.7L585.6 446.3ZM590.7 442.4L593.7 445.9L590.7 449.3L587.6 445.9ZM589.6 441.9L592.6 445.4L589.6 448.8L586.5 445.4ZM590.4 443.4L593.4 446.9L590.4 450.3L587.3 446.9ZM581.3 453.9L584.3 457.4L581.3 460.8L578.2 457.4ZM580.5 455.0L583.5 458.4L580.5 461.9L577.4 458.4ZM580.7 453.6L583.7 457.1L580.7 460.5L577.6 457.1ZM636.0 467.9L639.1 471.3L636.0 474.8L633.0 471.3ZM636.7 468.6L639.8 472.0L636.7 475.5L633.7 472.0ZM635.9 466.9L638.9 470.3L635.9 473.8L632.8 470.3ZM637.8 466.2L640.9 469.7L637.8 473.1L634.8 469.7ZM637.7 465.9L640.8 469.4L637.7 472.8L634.7 469.4ZM638.7 465.5L641.8 469.0L638.7 472.4L635.7 469.0ZM639.6 464.6L642.6 468.0L639.6 471.5L636.5 468.0ZM639.3 465.5L642.3 468.9L639.3 472.4L636.2 468.9ZM638.6 464.4L641.6 467.8L638.6 471.3L635.5 467.8ZM641.4 462.9L644.4 466.4L641.4 469.8L638.3 466.4ZM642.1 463.5L645.1 467.0L642.1 470.4L639.0 467.0ZM640.4 461.9L643.4 465.4L640.4 468.8L637.3 465.4ZM677.2 462.5L680.3 465.9L677.2 469.4L674.2 465.9ZM676.3 463.4L679.3 466.8L676.3 470.3L673.2 466.8ZM676.7 463.0L679.7 466.4L676.7 469.9L673.6 466.4ZM678.8 460.8L681.8 464.3L678.8 467.7L675.7 464.3ZM679.7 460.4L682.7 463.9L679.7 467.3L676.6 463.9ZM678.3 461.8L681.3 465.3L678.3 468.7L675.2 465.3ZM680.4 459.2L683.4 462.6L680.4 466.1L677.3 462.6ZM680.6 458.6L683.7 462.1L680.6 465.5L677.6 462.1ZM680.8 458.7L683.9 462.2L680.8 465.6L677.8 462.2ZM681.9 457.5L685.0 460.9L681.9 464.4L678.9 460.9ZM681.4 456.4L684.5 459.9L681.4 463.3L678.4 459.9ZM682.5 458.4L685.5 461.9L682.5 465.3L679.4 461.9ZM683.5 455.8L686.5 459.3L683.5 462.7L680.4 459.3ZM683.8 456.8L686.8 460.3L683.8 463.7L680.7 460.3ZM682.4 455.3L685.5 458.7L682.4 462.2L679.4 458.7ZM664.2 502.0L667.3 505.4L664.2 508.9L661.2 505.4ZM664.2 503.0L667.2 506.4L664.2 509.9L661.1 506.4ZM665.2 501.7L668.3 505.2L665.2 508.6L662.2 505.2ZM665.5 500.8L668.6 504.2L665.5 507.7L662.5 504.2ZM665.0 500.6L668.1 504.1L665.0 507.5L662.0 504.1ZM665.5 501.7L668.6 505.2L665.5 508.6L662.5 505.2ZM666.9 499.6L669.9 503.1L666.9 506.5L663.8 503.1ZM666.2 500.3L669.2 503.7L666.2 507.2L663.1 503.7ZM667.4 500.3L670.4 503.8L667.4 507.2L664.3 503.8Z" fill="#a5a5a5" stroke="#a5a5a5" stroke-width="0.6" stroke-linejoin="round"/>
</g>
<rect x="620.7" y="35.7" width="114.0" height="48.2" fill="#fff" stroke="#5b9bd5" stroke-width="1.4"/>
<rect x="619" y="94" width="119.89999999999998" height="47" fill="#fff" stroke="#5b9bd5" stroke-width="1.4"/>
<rect x="621.5" y="152.1" width="120.10000000000002" height="48.20000000000002" fill="#fff" stroke="#5b9bd5" stroke-width="1.4"/>
<rect x="781.1" y="77.8" width="70.0" height="133.60000000000002" fill="#fff" stroke="#5b9bd5" stroke-width="1.4"/>
<path d="M800 98.0L803 101.2L800 104.4L797 101.2Z" fill="#5b9bd5"/>
<path d="M800 141.8L803 145L800 148.2L797 145Z" fill="#ed7d31"/>
<path d="M800 185.8L803 189L800 192.2L797 189Z" fill="#a5a5a5"/>
</svg>
<div class="t" style="left:48.9px;top:13.5px;">100</div>
<div class="t" style="left:57.4px;top:278.3px;">10</div>
<div class="t" style="left:65.6px;top:543.4px;">1</div>
<div class="t" style="left:60.0px;top:566.6px;">1.00E-05</div>
<div class="t" style="left:319.4px;top:566.6px;">1.00E-04</div>
<div class="t" style="left:578.9px;top:566.6px;">1.00E-03</div>
<div class="t" style="left:838.2px;top:566.6px;">1.00E-02</div>
<div class="t" id="xt" style="left:459px;top:592.5px;font-size:16.8px;transform:none;">tav, s</div>
<div id="yt" style="position:absolute;left:0;top:0;white-space:nowrap;line-height:1;color:#000;font-size:20px;transform-origin:0 0;transform:translate(12px,367px) rotate(-90deg) scaleX(1.045);">Jpk (fail),&nbsp; A/mm<span style="font-size:12px;position:relative;top:-8px;">2</span></div>
<div class="eq" id="e1a" style="left:628.6px;top:41.4px;">y = 0.1912x<sup>0.49</sup></div>
<div class="eq" id="e1b" style="left:640.4px;top:62.9px;transform:scaleX(0.918);">R² = 0.9762</div>
<div class="eq" id="e2a" style="left:625.9px;top:98.9px;">y = 0.0662x<sup>0.552</sup></div>
<div class="eq" id="e2b" style="left:640.0px;top:120.3px;transform:scaleX(0.918);">R² = 0.9846</div>
<div class="eq" id="e3a" style="left:628.6px;top:158.0px;">y = 0.0573x<sup>0.541</sup></div>
<div class="eq" id="e3b" style="left:642.3px;top:179.7px;transform:scaleX(0.918);">R² = 0.9735</div>
<div class="eq" style="left:808.5px;top:90.7px;">40 V</div>
<div class="eq" style="left:808.5px;top:136.8px;">60 V</div>
<div class="eq" style="left:808.5px;top:180.2px;">80 V</div>
</body></html>
